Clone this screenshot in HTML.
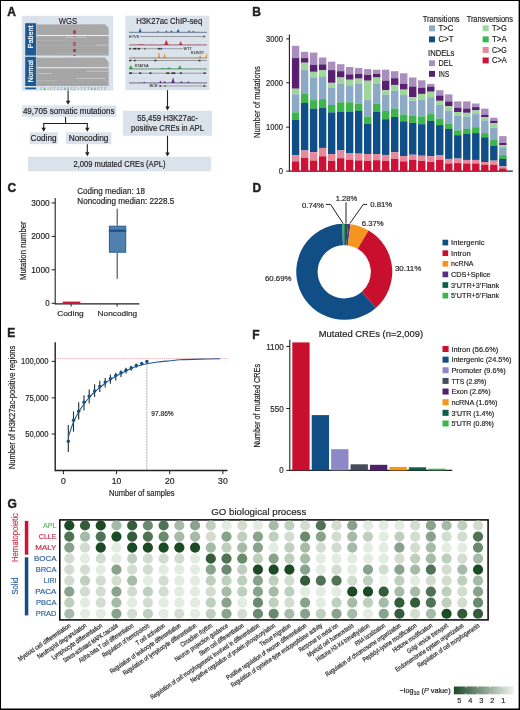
<!DOCTYPE html>
<html><head><meta charset="utf-8"><style>
html,body{margin:0;padding:0;background:#fff;}
body{width:520px;height:710px;overflow:hidden;}
svg{display:block;font-family:"Liberation Sans", sans-serif;will-change:transform;}
</style></head><body>
<svg width="520" height="710" viewBox="0 0 520 710">
<rect width="520" height="710" fill="#fff"/>
<text x="7.2" y="15.6" font-size="12" fill="#231f20" stroke="#231f20" stroke-width="0.45" text-anchor="start" font-weight="bold" >A</text>
<text x="252.3" y="15.5" font-size="12" fill="#231f20" stroke="#231f20" stroke-width="0.45" text-anchor="start" font-weight="bold" >B</text>
<text x="7.6" y="191.8" font-size="12" fill="#231f20" stroke="#231f20" stroke-width="0.45" text-anchor="start" font-weight="bold" >C</text>
<text x="252.4" y="191.8" font-size="12" fill="#231f20" stroke="#231f20" stroke-width="0.45" text-anchor="start" font-weight="bold" >D</text>
<text x="7.3" y="337.4" font-size="12" fill="#231f20" stroke="#231f20" stroke-width="0.45" text-anchor="start" font-weight="bold" >E</text>
<text x="252.2" y="338.5" font-size="12" fill="#231f20" stroke="#231f20" stroke-width="0.45" text-anchor="start" font-weight="bold" >F</text>
<text x="7.4" y="508.2" font-size="12" fill="#231f20" stroke="#231f20" stroke-width="0.45" text-anchor="start" font-weight="bold" >G</text>
<rect x="21.80" y="15.80" width="91.40" height="74.80" fill="#dae3ec" />
<text x="68" y="23.6" font-size="8.8" fill="#231f20" stroke="#231f20" stroke-width="0.18" text-anchor="middle" font-weight="normal" textLength="18.4" lengthAdjust="spacingAndGlyphs" >WGS</text>
<rect x="25.20" y="23.20" width="11.00" height="32.30" fill="#1c5a94" />
<rect x="25.20" y="56.80" width="11.00" height="29.20" fill="#1c5a94" />
<rect x="25.20" y="87.50" width="11.00" height="1.80" fill="#1c5a94" />
<text transform="translate(33.2,36.8) rotate(-90)" font-size="7" fill="#fff" stroke="#fff" stroke-width="0.2" text-anchor="middle" textLength="22.8" lengthAdjust="spacingAndGlyphs">Patient</text>
<text transform="translate(33.2,71.2) rotate(-90)" font-size="7" fill="#fff" stroke="#fff" stroke-width="0.2" text-anchor="middle" textLength="22" lengthAdjust="spacingAndGlyphs">Normal</text>
<path d="M36.6,24.6 L105,24.2 L108.6,28 L108.6,55.5 L36.6,55.5 Z" fill="#a8a8a8"/>
<path d="M36.6,57.8 L105,57.4 L108.6,62 L108.6,86 L36.6,86 Z" fill="#a8a8a8"/>
<rect x="36.60" y="35.00" width="72.00" height="1.00" fill="#ededed" />
<rect x="36.60" y="38.70" width="72.00" height="0.45" fill="#9c9c9c" />
<rect x="36.60" y="41.10" width="72.00" height="0.45" fill="#9c9c9c" />
<rect x="36.60" y="43.40" width="72.00" height="0.45" fill="#9c9c9c" />
<rect x="36.60" y="47.70" width="72.00" height="0.45" fill="#9c9c9c" />
<rect x="36.60" y="49.80" width="72.00" height="0.45" fill="#9c9c9c" />
<rect x="36.60" y="52.00" width="72.00" height="0.45" fill="#9c9c9c" />
<rect x="36.60" y="54.10" width="72.00" height="0.45" fill="#9c9c9c" />
<rect x="66.00" y="36.80" width="20.00" height="0.90" fill="#c6c6c6" />
<rect x="96.00" y="44.60" width="12.00" height="0.90" fill="#c6c6c6" />
<rect x="36.60" y="40.00" width="30.00" height="0.60" fill="#b8b8b8" />
<rect x="56.00" y="53.00" width="52.00" height="0.60" fill="#b8b8b8" />
<rect x="36.60" y="67.20" width="72.00" height="1.00" fill="#ededed" />
<rect x="36.60" y="70.00" width="72.00" height="0.45" fill="#9c9c9c" />
<rect x="36.60" y="72.40" width="72.00" height="0.45" fill="#9c9c9c" />
<rect x="36.60" y="74.80" width="72.00" height="0.45" fill="#9c9c9c" />
<rect x="36.60" y="77.20" width="72.00" height="0.45" fill="#9c9c9c" />
<rect x="36.60" y="79.60" width="72.00" height="0.45" fill="#9c9c9c" />
<rect x="36.60" y="82.00" width="72.00" height="0.45" fill="#9c9c9c" />
<rect x="36.60" y="84.30" width="72.00" height="0.45" fill="#9c9c9c" />
<rect x="38.00" y="73.20" width="14.00" height="0.80" fill="#cccccc" />
<rect x="86.00" y="70.80" width="22.00" height="0.80" fill="#cccccc" />
<rect x="76.00" y="78.20" width="30.00" height="0.80" fill="#cccccc" />
<rect x="36.60" y="80.60" width="20.00" height="0.60" fill="#c0c0c0" />
<rect x="73.00" y="30.40" width="3.00" height="3.40" fill="#cc3148" />
<rect x="73.20" y="36.20" width="2.60" height="0.60" fill="#cc3148" />
<rect x="73.00" y="42.10" width="3.00" height="1.30" fill="#cc3148" />
<rect x="73.00" y="44.30" width="3.00" height="1.30" fill="#cc3148" />
<rect x="73.00" y="49.10" width="3.00" height="2.90" fill="#cc3148" />
<rect x="73.20" y="55.00" width="2.60" height="0.70" fill="#cc3148" />
<text x="40.50" y="90" font-size="2.8" fill="#2f6db0">C</text>
<text x="43.85" y="90" font-size="2.8" fill="#3aa84a">A</text>
<text x="47.20" y="90" font-size="2.8" fill="#e8a020">G</text>
<text x="50.55" y="90" font-size="2.8" fill="#2f6db0">C</text>
<text x="53.90" y="90" font-size="2.8" fill="#d0243f">T</text>
<text x="57.25" y="90" font-size="2.8" fill="#2f6db0">C</text>
<text x="60.60" y="90" font-size="2.8" fill="#2f6db0">C</text>
<text x="63.95" y="90" font-size="2.8" fill="#3aa84a">A</text>
<text x="67.30" y="90" font-size="2.8" fill="#3aa84a">A</text>
<text x="70.65" y="90" font-size="2.8" fill="#2f6db0">C</text>
<text x="74.00" y="90" font-size="2.8" fill="#2f6db0">C</text>
<text x="77.35" y="90" font-size="2.8" fill="#e8a020">G</text>
<text x="80.70" y="90" font-size="2.8" fill="#d0243f">T</text>
<text x="84.05" y="90" font-size="2.8" fill="#2f6db0">C</text>
<text x="87.40" y="90" font-size="2.8" fill="#d0243f">T</text>
<text x="90.75" y="90" font-size="2.8" fill="#3aa84a">A</text>
<text x="94.10" y="90" font-size="2.8" fill="#3aa84a">A</text>
<text x="97.45" y="90" font-size="2.8" fill="#2f6db0">C</text>
<text x="100.80" y="90" font-size="2.8" fill="#d0243f">T</text>
<text x="104.15" y="90" font-size="2.8" fill="#2f6db0">C</text>
<line x1="68.1" y1="90.6" x2="68.1" y2="101.3" stroke="#231f20" stroke-width="1.1" />
<path d="M65.89999999999999,100.8 L70.3,100.8 L68.1,104.8 Z" fill="#231f20"/>
<rect x="21.90" y="105.40" width="94.30" height="11.50" fill="#dae3ec" />
<text x="68.75" y="113.5" font-size="8.2" fill="#231f20" stroke="#231f20" stroke-width="0.18" text-anchor="middle" font-weight="normal" textLength="91.7" lengthAdjust="spacingAndGlyphs" >49,705 somatic mutations</text>
<line x1="65.6" y1="116.9" x2="65.6" y2="123.5" stroke="#231f20" stroke-width="1.1" />
<line x1="43.7" y1="123.5" x2="87.3" y2="123.5" stroke="#231f20" stroke-width="1.1" />
<line x1="43.7" y1="123.0" x2="43.7" y2="128.2" stroke="#231f20" stroke-width="1.1" />
<path d="M41.5,127.69999999999999 L45.900000000000006,127.69999999999999 L43.7,131.7 Z" fill="#231f20"/>
<line x1="87.3" y1="123.0" x2="87.3" y2="128.2" stroke="#231f20" stroke-width="1.1" />
<path d="M85.1,127.69999999999999 L89.5,127.69999999999999 L87.3,131.7 Z" fill="#231f20"/>
<rect x="29.60" y="132.30" width="28.30" height="11.90" fill="#dae3ec" />
<text x="43.55" y="141.3" font-size="8.2" fill="#231f20" stroke="#231f20" stroke-width="0.18" text-anchor="middle" font-weight="normal" textLength="25.9" lengthAdjust="spacingAndGlyphs" >Coding</text>
<rect x="65.80" y="132.30" width="45.50" height="11.90" fill="#dae3ec" />
<text x="88.6" y="141.3" font-size="8.2" fill="#231f20" stroke="#231f20" stroke-width="0.18" text-anchor="middle" font-weight="normal" textLength="39.8" lengthAdjust="spacingAndGlyphs" >Noncoding</text>
<line x1="87.3" y1="144.2" x2="87.3" y2="152.7" stroke="#231f20" stroke-width="1.1" />
<path d="M85.1,152.2 L89.5,152.2 L87.3,156.2 Z" fill="#231f20"/>
<rect x="28.00" y="156.75" width="183.00" height="14.50" fill="#dae3ec" />
<text x="119.5" y="166.8" font-size="8.2" fill="#231f20" stroke="#231f20" stroke-width="0.18" text-anchor="middle" font-weight="normal" textLength="92" lengthAdjust="spacingAndGlyphs" >2,009 mutated CREs (APL)</text>
<rect x="125.40" y="15.70" width="84.10" height="74.50" fill="#dae3ec" />
<text x="169.2" y="24.2" font-size="9" fill="#231f20" stroke="#231f20" stroke-width="0.18" text-anchor="middle" font-weight="normal" textLength="66" lengthAdjust="spacingAndGlyphs" >H3K27ac ChIP-seq</text>
<line x1="167.5" y1="90.2" x2="167.5" y2="106.9" stroke="#231f20" stroke-width="1.1" />
<path d="M165.3,106.4 L169.7,106.4 L167.5,110.4 Z" fill="#231f20"/>
<rect x="123.00" y="110.75" width="89.00" height="25.00" fill="#dae3ec" />
<text x="167.5" y="121.2" font-size="8.2" fill="#231f20" stroke="#231f20" stroke-width="0.18" text-anchor="middle" font-weight="normal" textLength="60.5" lengthAdjust="spacingAndGlyphs" >55,459 H3K27ac-</text>
<text x="167.5" y="131.2" font-size="8.2" fill="#231f20" stroke="#231f20" stroke-width="0.18" text-anchor="middle" font-weight="normal" textLength="73" lengthAdjust="spacingAndGlyphs" >positive CREs in APL</text>
<line x1="167.5" y1="135.75" x2="167.5" y2="153.0" stroke="#231f20" stroke-width="1.1" />
<path d="M165.3,152.5 L169.7,152.5 L167.5,156.5 Z" fill="#231f20"/>
<path d="M129.07700118463362,32.3 L129.08,32.20 L129.40,32.20 L129.73,31.93 L130.05,32.20 L130.37,32.20 L130.70,32.20 L131.02,32.20 L131.35,31.84 L131.67,32.20 L132.00,32.20 L132.32,32.20 L132.65,32.20 L132.97,31.84 L133.29,32.20 L133.62,32.20 L133.94,32.20 L134.27,32.20 L134.59,31.93 L134.92,32.20 L135.24,32.20 L135.56,32.20 L135.89,32.20 L136.21,32.08 L136.54,32.20 L136.86,32.20 L137.19,32.20 L137.51,32.20 L137.83,32.20 L138.16,32.06 L138.48,32.13 L138.81,31.91 L139.13,31.31 L139.46,30.23 L139.78,28.74 L140.11,28.60 L140.43,29.24 L140.75,30.44 L141.08,31.45 L141.40,31.54 L141.73,32.15 L142.05,32.19 L142.38,32.20 L142.70,32.20 L143.02,31.76 L143.35,32.20 L143.67,32.20 L144.00,32.20 L144.32,32.20 L144.65,31.86 L144.97,32.20 L145.30,32.20 L145.62,32.20 L145.94,32.20 L146.27,32.04 L146.59,32.20 L146.92,32.20 L147.24,32.20 L147.57,32.20 L147.89,32.20 L148.21,32.12 L148.54,32.18 L148.86,32.20 L149.19,32.20 L149.51,32.20 L149.84,31.98 L150.16,32.17 L150.49,32.20 L150.81,32.20 L151.13,32.20 L151.46,31.88 L151.78,32.20 L152.11,32.20 L152.43,32.20 L152.76,32.20 L153.08,31.86 L153.40,32.20 L153.73,32.20 L154.05,32.20 L154.38,32.20 L154.70,31.94 L155.03,32.20 L155.35,32.20 L155.67,32.20 L156.00,32.20 L156.32,32.10 L156.65,32.15 L156.97,31.83 L157.30,31.66 L157.62,31.30 L157.95,31.22 L158.27,31.51 L158.59,31.60 L158.92,32.10 L159.24,32.18 L159.57,32.20 L159.89,32.19 L160.22,31.89 L160.54,32.20 L160.86,32.20 L161.19,32.20 L161.51,32.14 L161.84,31.95 L162.16,32.20 L162.49,32.20 L162.81,32.20 L163.14,32.12 L163.46,32.06 L163.78,32.20 L164.11,32.20 L164.43,32.20 L164.76,32.15 L165.08,32.13 L165.41,31.88 L165.73,31.44 L166.05,30.88 L166.38,30.72 L166.70,31.11 L167.03,31.43 L167.35,32.04 L167.68,32.17 L168.00,32.20 L168.33,32.20 L168.65,31.80 L168.97,32.20 L169.30,32.20 L169.62,32.20 L169.95,32.18 L170.27,31.63 L170.60,31.75 L170.92,31.17 L171.24,30.66 L171.57,30.71 L171.89,30.87 L172.22,31.81 L172.54,32.10 L172.87,32.18 L173.19,32.20 L173.51,31.97 L173.84,32.20 L174.16,32.20 L174.49,32.20 L174.81,32.20 L175.14,32.18 L175.46,32.16 L175.79,32.20 L176.11,32.20 L176.43,32.17 L176.76,32.07 L177.08,31.52 L177.41,31.03 L177.73,30.08 L178.06,29.44 L178.38,29.61 L178.70,30.11 L179.03,31.35 L179.35,31.90 L179.68,32.13 L180.00,32.19 L180.33,31.80 L180.65,32.20 L180.98,32.20 L181.30,32.20 L181.62,32.20 L181.95,31.85 L182.27,32.20 L182.60,32.20 L182.92,32.20 L183.25,32.20 L183.57,32.00 L183.89,32.20 L184.22,32.17 L184.54,32.20 L184.87,32.20 L185.19,32.20 L185.52,32.20 L185.84,32.03 L186.17,32.20 L186.49,32.20 L186.81,32.20 L187.14,32.14 L187.46,31.97 L187.79,32.16 L188.11,32.03 L188.44,31.64 L188.76,30.89 L189.08,30.42 L189.41,30.80 L189.73,31.39 L190.06,31.90 L190.38,31.94 L190.71,32.07 L191.03,32.20 L191.35,32.20 L191.68,32.20 L192.00,32.01 L192.33,32.07 L192.65,31.80 L192.98,31.35 L193.30,31.02 L193.63,31.08 L193.95,31.57 L194.27,31.80 L194.60,32.14 L194.92,32.19 L195.25,32.20 L195.57,32.20 L195.90,31.87 L196.22,32.20 L196.54,32.20 L196.87,32.20 L197.19,32.20 L197.52,31.79 L197.84,32.20 L198.17,32.20 L198.49,32.20 L198.82,32.20 L199.14,31.81 L199.46,32.20 L199.79,32.20 L200.11,32.20 L200.44,32.20 L200.76,31.93 L201.09,32.20 L201.41,32.20 L201.73,32.20 L202.06,32.20 L202.38,32.11 L202.71,32.20 L203.03,32.20 L203.36,32.20 L203.68,32.20 L204.01,32.20 L204.33,32.03 L204.65,32.20 L204.98,32.20 L205.30,32.20 L205.63,32.20 L205.95,31.86 L206.28,32.20 L206.60,32.20 L206.92,32.20 L206.92435268234897,32.3 Z" fill="#1f4e8a" stroke="#1f4e8a" stroke-width="0.2"/>
<line x1="129.07700118463362" y1="32.3" x2="206.92435268234897" y2="32.3" stroke="#222" stroke-width="0.5" opacity="0.6"/>
<line x1="140.07717041800643" y1="36.5" x2="205.23201895413774" y2="36.5" stroke="#444" stroke-width="0.45" />
<rect x="203.54" y="35.70" width="1.20" height="1.60" fill="#333" />
<text x="129.07700118463362" y="37.8" font-size="3.9" fill="#333" stroke="#333" stroke-width="0.08" font-style="italic">ETV6</text>
<path d="M129.07700118463362,45.0 L129.08,44.90 L129.40,44.90 L129.73,44.63 L130.05,44.90 L130.37,44.90 L130.70,44.90 L131.02,44.90 L131.35,44.54 L131.67,44.90 L132.00,44.90 L132.32,44.90 L132.65,44.90 L132.97,44.54 L133.29,44.90 L133.62,44.90 L133.94,44.90 L134.27,44.90 L134.59,44.63 L134.92,44.90 L135.24,44.90 L135.56,44.90 L135.89,44.90 L136.21,44.78 L136.54,44.90 L136.86,44.89 L137.19,44.88 L137.51,44.87 L137.83,44.85 L138.16,44.70 L138.48,44.79 L138.81,44.74 L139.13,44.68 L139.46,44.61 L139.78,44.22 L140.11,44.48 L140.43,44.43 L140.75,44.40 L141.08,44.40 L141.40,44.00 L141.73,44.47 L142.05,44.54 L142.38,44.60 L142.70,44.67 L143.02,44.29 L143.35,44.79 L143.67,44.82 L144.00,44.85 L144.32,44.87 L144.65,44.54 L144.97,44.89 L145.30,44.90 L145.62,44.90 L145.94,44.90 L146.27,44.74 L146.59,44.90 L146.92,44.90 L147.24,44.90 L147.57,44.90 L147.89,44.90 L148.21,44.82 L148.54,44.88 L148.86,44.90 L149.19,44.90 L149.51,44.90 L149.84,44.68 L150.16,44.87 L150.49,44.90 L150.81,44.90 L151.13,44.90 L151.46,44.58 L151.78,44.90 L152.11,44.90 L152.43,44.90 L152.76,44.90 L153.08,44.56 L153.40,44.90 L153.73,44.90 L154.05,44.90 L154.38,44.90 L154.70,44.64 L155.03,44.90 L155.35,44.90 L155.67,44.90 L156.00,44.90 L156.32,44.81 L156.65,44.90 L156.97,44.74 L157.30,44.90 L157.62,44.90 L157.95,44.90 L158.27,44.90 L158.59,44.62 L158.92,44.90 L159.24,44.90 L159.57,44.90 L159.89,44.89 L160.22,44.59 L160.54,44.90 L160.86,44.90 L161.19,44.90 L161.51,44.84 L161.84,44.65 L162.16,44.90 L162.49,44.90 L162.81,44.90 L163.14,44.81 L163.46,44.75 L163.78,44.85 L164.11,44.74 L164.43,44.51 L164.76,44.01 L165.08,43.32 L165.41,42.31 L165.73,41.33 L166.05,40.60 L166.38,40.42 L166.70,40.86 L167.03,41.51 L167.35,42.79 L167.68,43.67 L168.00,44.28 L168.33,44.63 L168.65,44.40 L168.97,44.87 L169.30,44.89 L169.62,44.90 L169.95,44.90 L170.27,44.46 L170.60,44.90 L170.92,44.90 L171.24,44.90 L171.57,44.90 L171.89,44.52 L172.22,44.90 L172.54,44.90 L172.87,44.90 L173.19,44.90 L173.51,44.67 L173.84,44.90 L174.16,44.90 L174.49,44.90 L174.81,44.90 L175.14,44.88 L175.46,44.86 L175.79,44.90 L176.11,44.90 L176.43,44.90 L176.76,44.90 L177.08,44.69 L177.41,44.90 L177.73,44.90 L178.06,44.90 L178.38,44.90 L178.70,44.53 L179.03,44.79 L179.35,44.54 L179.68,43.98 L180.00,43.07 L180.33,41.70 L180.65,41.61 L180.98,41.91 L181.30,42.80 L181.62,43.77 L181.95,44.08 L182.27,44.75 L182.60,44.86 L182.92,44.89 L183.25,44.90 L183.57,44.70 L183.89,44.90 L184.22,44.87 L184.54,44.90 L184.87,44.90 L185.19,44.90 L185.52,44.90 L185.84,44.73 L186.17,44.90 L186.49,44.90 L186.81,44.90 L187.14,44.84 L187.46,44.68 L187.79,44.90 L188.11,44.90 L188.44,44.90 L188.76,44.76 L189.08,44.70 L189.41,44.90 L189.73,44.90 L190.06,44.90 L190.38,44.71 L190.71,44.78 L191.03,44.90 L191.35,44.90 L191.68,44.90 L192.00,44.74 L192.33,44.89 L192.65,44.90 L192.98,44.90 L193.30,44.90 L193.63,44.84 L193.95,44.90 L194.27,44.74 L194.60,44.90 L194.92,44.90 L195.25,44.90 L195.57,44.90 L195.90,44.57 L196.22,44.90 L196.54,44.90 L196.87,44.90 L197.19,44.90 L197.52,44.49 L197.84,44.90 L198.17,44.90 L198.49,44.90 L198.82,44.90 L199.14,44.51 L199.46,44.90 L199.79,44.90 L200.11,44.90 L200.44,44.90 L200.76,44.63 L201.09,44.90 L201.41,44.90 L201.73,44.90 L202.06,44.90 L202.38,44.81 L202.71,44.90 L203.03,44.90 L203.36,44.90 L203.68,44.90 L204.01,44.90 L204.33,44.73 L204.65,44.90 L204.98,44.90 L205.30,44.90 L205.63,44.90 L205.95,44.56 L206.28,44.90 L206.60,44.90 L206.92,44.90 L206.92435268234897,45.0 Z" fill="#c8283c" stroke="#c8283c" stroke-width="0.2"/>
<line x1="129.07700118463362" y1="45.0" x2="206.92435268234897" y2="45.0" stroke="#222" stroke-width="0.5" opacity="0.6"/>
<line x1="129.07700118463362" y1="48.7" x2="183.2316804873921" y2="48.7" stroke="#444" stroke-width="0.45" />
<rect x="129.08" y="47.90" width="1.50" height="1.60" fill="#333" />
<rect x="133.31" y="47.90" width="3.00" height="1.60" fill="#333" />
<rect x="137.54" y="47.90" width="2.50" height="1.60" fill="#333" />
<rect x="144.31" y="47.90" width="1.00" height="1.60" fill="#333" />
<rect x="157.85" y="47.90" width="2.00" height="1.60" fill="#333" />
<rect x="160.39" y="47.90" width="1.50" height="1.60" fill="#333" />
<text x="183.57014723303436" y="49.9" font-size="3.9" fill="#333" stroke="#333" stroke-width="0.08" font-style="italic">WT1</text>
<path d="M129.07700118463362,58.0 L129.08,57.90 L129.40,57.90 L129.73,57.63 L130.05,57.90 L130.37,57.90 L130.70,57.90 L131.02,57.90 L131.35,57.54 L131.67,57.90 L132.00,57.90 L132.32,57.90 L132.65,57.90 L132.97,57.52 L133.29,57.77 L133.62,57.45 L133.94,57.02 L134.27,56.93 L134.59,57.04 L134.92,57.70 L135.24,57.86 L135.56,57.90 L135.89,57.90 L136.21,57.78 L136.54,57.90 L136.86,57.90 L137.19,57.90 L137.51,57.90 L137.83,57.90 L138.16,57.77 L138.48,57.90 L138.81,57.90 L139.13,57.90 L139.46,57.90 L139.78,57.58 L140.11,57.90 L140.43,57.90 L140.75,57.90 L141.08,57.90 L141.40,57.47 L141.73,57.90 L142.05,57.90 L142.38,57.90 L142.70,57.90 L143.02,57.46 L143.35,57.90 L143.67,57.90 L144.00,57.90 L144.32,57.90 L144.65,57.56 L144.97,57.90 L145.30,57.90 L145.62,57.90 L145.94,57.90 L146.27,57.74 L146.59,57.90 L146.92,57.90 L147.24,57.90 L147.57,57.90 L147.89,57.90 L148.21,57.82 L148.54,57.88 L148.86,57.90 L149.19,57.90 L149.51,57.90 L149.84,57.68 L150.16,57.87 L150.49,57.90 L150.81,57.90 L151.13,57.90 L151.46,57.58 L151.78,57.90 L152.11,57.90 L152.43,57.90 L152.76,57.90 L153.08,57.56 L153.40,57.90 L153.73,57.90 L154.05,57.90 L154.38,57.90 L154.70,57.64 L155.03,57.90 L155.35,57.90 L155.67,57.90 L156.00,57.90 L156.32,57.81 L156.65,57.90 L156.97,57.74 L157.30,57.90 L157.62,57.88 L157.95,57.69 L158.27,56.80 L158.59,54.39 L158.92,52.59 L159.24,53.04 L159.57,55.42 L159.89,57.19 L160.22,57.48 L160.54,57.89 L160.86,57.90 L161.19,57.90 L161.51,57.84 L161.84,57.65 L162.16,57.90 L162.49,57.90 L162.81,57.90 L163.14,57.81 L163.46,57.65 L163.78,57.24 L164.11,55.70 L164.43,53.80 L164.76,53.60 L165.08,55.43 L165.41,57.07 L165.73,57.76 L166.05,57.89 L166.38,57.90 L166.70,57.90 L167.03,57.65 L167.35,57.90 L167.68,57.90 L168.00,57.90 L168.33,57.90 L168.65,57.50 L168.97,57.90 L169.30,57.90 L169.62,57.90 L169.95,57.90 L170.27,57.46 L170.60,57.90 L170.92,57.90 L171.24,57.90 L171.57,57.90 L171.89,57.52 L172.22,57.90 L172.54,57.90 L172.87,57.90 L173.19,57.90 L173.51,57.67 L173.84,57.90 L174.16,57.90 L174.49,57.90 L174.81,57.90 L175.14,57.88 L175.46,57.86 L175.79,57.90 L176.11,57.90 L176.43,57.90 L176.76,57.90 L177.08,57.69 L177.41,57.90 L177.73,57.90 L178.06,57.90 L178.38,57.90 L178.70,57.55 L179.03,57.90 L179.35,57.90 L179.68,57.90 L180.00,57.90 L180.33,57.50 L180.65,57.90 L180.98,57.90 L181.30,57.90 L181.62,57.90 L181.95,57.55 L182.27,57.90 L182.60,57.90 L182.92,57.90 L183.25,57.90 L183.57,57.70 L183.89,57.90 L184.22,57.87 L184.54,57.90 L184.87,57.90 L185.19,57.90 L185.52,57.90 L185.84,57.73 L186.17,57.90 L186.49,57.90 L186.81,57.90 L187.14,57.84 L187.46,57.68 L187.79,57.90 L188.11,57.90 L188.44,57.90 L188.76,57.76 L189.08,57.70 L189.41,57.90 L189.73,57.90 L190.06,57.90 L190.38,57.71 L190.71,57.78 L191.03,57.90 L191.35,57.90 L191.68,57.90 L192.00,57.74 L192.33,57.89 L192.65,57.90 L192.98,57.90 L193.30,57.90 L193.63,57.84 L193.95,57.90 L194.27,57.74 L194.60,57.90 L194.92,57.90 L195.25,57.90 L195.57,57.90 L195.90,57.57 L196.22,57.90 L196.54,57.90 L196.87,57.90 L197.19,57.90 L197.52,57.49 L197.84,57.90 L198.17,57.90 L198.49,57.90 L198.82,57.88 L199.14,57.35 L199.46,57.16 L199.79,55.97 L200.11,55.11 L200.44,55.66 L200.76,56.62 L201.09,57.65 L201.41,57.86 L201.73,57.90 L202.06,57.90 L202.38,57.81 L202.71,57.90 L203.03,57.90 L203.36,57.90 L203.68,57.90 L204.01,57.90 L204.33,57.73 L204.65,57.90 L204.98,57.90 L205.30,57.89 L205.63,57.79 L205.95,56.66 L206.28,54.84 L206.60,53.40 L206.92,55.05 L206.92435268234897,58.0 Z" fill="#e8901e" stroke="#e8901e" stroke-width="0.2"/>
<line x1="129.07700118463362" y1="58.0" x2="206.92435268234897" y2="58.0" stroke="#222" stroke-width="0.5" opacity="0.6"/>
<line x1="129.07700118463362" y1="60.5" x2="206.92435268234897" y2="60.5" stroke="#444" stroke-width="0.45" />
<rect x="129.08" y="59.70" width="2.00" height="1.60" fill="#333" />
<rect x="134.15" y="59.70" width="1.50" height="1.60" fill="#333" />
<rect x="154.46" y="59.70" width="2.00" height="1.60" fill="#333" />
<rect x="198.46" y="59.70" width="2.00" height="1.60" fill="#333" />
<text x="190.84718226434254" y="54.3" font-size="3.9" fill="#333" stroke="#333" stroke-width="0.08" font-style="italic">RUNX1</text>
<path d="M129.07700118463362,69.0 L129.08,68.45 L129.40,68.00 L129.73,67.08 L130.05,66.60 L130.37,65.94 L130.70,65.61 L131.02,65.74 L131.35,65.92 L131.67,67.03 L132.00,67.74 L132.32,68.28 L132.65,68.61 L132.97,68.42 L133.29,68.86 L133.62,68.89 L133.94,68.90 L134.27,68.90 L134.59,68.63 L134.92,68.90 L135.24,68.90 L135.56,68.90 L135.89,68.90 L136.21,68.78 L136.54,68.90 L136.86,68.90 L137.19,68.90 L137.51,68.90 L137.83,68.90 L138.16,68.77 L138.48,68.90 L138.81,68.90 L139.13,68.90 L139.46,68.90 L139.78,68.58 L140.11,68.90 L140.43,68.90 L140.75,68.90 L141.08,68.90 L141.40,68.47 L141.73,68.90 L142.05,68.90 L142.38,68.90 L142.70,68.90 L143.02,68.46 L143.35,68.90 L143.67,68.90 L144.00,68.90 L144.32,68.90 L144.65,68.56 L144.97,68.90 L145.30,68.90 L145.62,68.90 L145.94,68.90 L146.27,68.74 L146.59,68.90 L146.92,68.90 L147.24,68.90 L147.57,68.90 L147.89,68.90 L148.21,68.82 L148.54,68.88 L148.86,68.90 L149.19,68.90 L149.51,68.90 L149.84,68.68 L150.16,68.87 L150.49,68.90 L150.81,68.90 L151.13,68.90 L151.46,68.58 L151.78,68.90 L152.11,68.90 L152.43,68.90 L152.76,68.90 L153.08,68.56 L153.40,68.90 L153.73,68.90 L154.05,68.90 L154.38,68.90 L154.70,68.64 L155.03,68.90 L155.35,68.90 L155.67,68.90 L156.00,68.90 L156.32,68.81 L156.65,68.90 L156.97,68.74 L157.30,68.90 L157.62,68.90 L157.95,68.90 L158.27,68.90 L158.59,68.62 L158.92,68.90 L159.24,68.90 L159.57,68.90 L159.89,68.88 L160.22,68.57 L160.54,68.84 L160.86,68.79 L161.19,68.72 L161.51,68.55 L161.84,68.23 L162.16,68.36 L162.49,68.26 L162.81,68.20 L163.14,68.13 L163.46,68.15 L163.78,68.40 L164.11,68.52 L164.43,68.65 L164.76,68.70 L165.08,68.81 L165.41,68.82 L165.73,68.86 L166.05,68.85 L166.38,68.82 L166.70,68.74 L167.03,68.37 L167.35,68.46 L167.68,68.25 L168.00,68.03 L168.33,67.84 L168.65,67.32 L168.97,67.71 L169.30,67.80 L169.62,67.98 L169.95,68.20 L170.27,67.97 L170.60,68.59 L170.92,68.72 L171.24,68.81 L171.57,68.86 L171.89,68.50 L172.22,68.89 L172.54,68.90 L172.87,68.90 L173.19,68.90 L173.51,68.67 L173.84,68.90 L174.16,68.90 L174.49,68.90 L174.81,68.90 L175.14,68.88 L175.46,68.86 L175.79,68.90 L176.11,68.90 L176.43,68.90 L176.76,68.90 L177.08,68.67 L177.41,68.85 L177.73,68.76 L178.06,68.56 L178.38,68.18 L178.70,67.26 L179.03,66.89 L179.35,66.20 L179.68,65.76 L180.00,65.75 L180.33,65.77 L180.65,66.86 L180.98,67.58 L181.30,68.16 L181.62,68.54 L181.95,68.40 L182.27,68.85 L182.60,68.88 L182.92,68.90 L183.25,68.90 L183.57,68.70 L183.89,68.90 L184.22,68.87 L184.54,68.90 L184.87,68.90 L185.19,68.90 L185.52,68.90 L185.84,68.73 L186.17,68.90 L186.49,68.90 L186.81,68.90 L187.14,68.84 L187.46,68.68 L187.79,68.90 L188.11,68.90 L188.44,68.90 L188.76,68.76 L189.08,68.70 L189.41,68.90 L189.73,68.90 L190.06,68.90 L190.38,68.71 L190.71,68.78 L191.03,68.90 L191.35,68.90 L191.68,68.90 L192.00,68.74 L192.33,68.89 L192.65,68.90 L192.98,68.90 L193.30,68.90 L193.63,68.84 L193.95,68.90 L194.27,68.74 L194.60,68.90 L194.92,68.90 L195.25,68.90 L195.57,68.90 L195.90,68.57 L196.22,68.90 L196.54,68.90 L196.87,68.90 L197.19,68.90 L197.52,68.49 L197.84,68.90 L198.17,68.90 L198.49,68.90 L198.82,68.90 L199.14,68.51 L199.46,68.90 L199.79,68.90 L200.11,68.90 L200.44,68.90 L200.76,68.63 L201.09,68.90 L201.41,68.90 L201.73,68.90 L202.06,68.90 L202.38,68.81 L202.71,68.90 L203.03,68.90 L203.36,68.90 L203.68,68.90 L204.01,68.90 L204.33,68.73 L204.65,68.90 L204.98,68.90 L205.30,68.90 L205.63,68.90 L205.95,68.56 L206.28,68.90 L206.60,68.90 L206.92,68.90 L206.92435268234897,69.0 Z" fill="#3aa84a" stroke="#3aa84a" stroke-width="0.2"/>
<line x1="129.07700118463362" y1="69.0" x2="206.92435268234897" y2="69.0" stroke="#222" stroke-width="0.5" opacity="0.6"/>
<line x1="129.07700118463362" y1="73.2" x2="206.92435268234897" y2="73.2" stroke="#444" stroke-width="0.45" />
<rect x="129.08" y="72.40" width="3.00" height="1.60" fill="#333" />
<rect x="139.23" y="72.40" width="2.00" height="1.60" fill="#333" />
<rect x="149.39" y="72.40" width="2.00" height="1.60" fill="#333" />
<rect x="166.31" y="72.40" width="3.00" height="1.60" fill="#333" />
<rect x="171.39" y="72.40" width="4.00" height="1.60" fill="#333" />
<rect x="179.85" y="72.40" width="2.00" height="1.60" fill="#333" />
<rect x="203.54" y="72.40" width="2.00" height="1.60" fill="#333" />
<text x="134.49246911490945" y="67.3" font-size="3.9" fill="#333" stroke="#333" stroke-width="0.08" font-style="italic">STAT5A</text>
<path d="M129.07700118463362,83.0 L129.08,82.90 L129.40,82.90 L129.73,82.63 L130.05,82.90 L130.37,82.90 L130.70,82.90 L131.02,82.90 L131.35,82.54 L131.67,82.90 L132.00,82.90 L132.32,82.90 L132.65,82.90 L132.97,82.54 L133.29,82.90 L133.62,82.90 L133.94,82.90 L134.27,82.90 L134.59,82.63 L134.92,82.90 L135.24,82.90 L135.56,82.90 L135.89,82.90 L136.21,82.78 L136.54,82.90 L136.86,82.90 L137.19,82.90 L137.51,82.90 L137.83,82.90 L138.16,82.77 L138.48,82.90 L138.81,82.90 L139.13,82.90 L139.46,82.90 L139.78,82.58 L140.11,82.90 L140.43,82.90 L140.75,82.90 L141.08,82.90 L141.40,82.47 L141.73,82.90 L142.05,82.90 L142.38,82.90 L142.70,82.90 L143.02,82.44 L143.35,82.79 L143.67,82.59 L144.00,82.32 L144.32,82.20 L144.65,82.00 L144.97,82.61 L145.30,82.80 L145.62,82.88 L145.94,82.90 L146.27,82.74 L146.59,82.90 L146.92,82.90 L147.24,82.90 L147.57,82.90 L147.89,82.90 L148.21,82.82 L148.54,82.88 L148.86,82.90 L149.19,82.90 L149.51,82.90 L149.84,82.68 L150.16,82.87 L150.49,82.90 L150.81,82.90 L151.13,82.90 L151.46,82.58 L151.78,82.90 L152.11,82.90 L152.43,82.90 L152.76,82.90 L153.08,82.56 L153.40,82.90 L153.73,82.90 L154.05,82.90 L154.38,82.90 L154.70,82.64 L155.03,82.90 L155.35,82.90 L155.67,82.90 L156.00,82.90 L156.32,82.81 L156.65,82.90 L156.97,82.74 L157.30,82.90 L157.62,82.90 L157.95,82.90 L158.27,82.90 L158.59,82.62 L158.92,82.88 L159.24,82.76 L159.57,82.39 L159.89,81.67 L160.22,80.71 L160.54,81.00 L160.86,81.65 L161.19,82.37 L161.51,82.69 L161.84,82.62 L162.16,82.90 L162.49,82.90 L162.81,82.90 L163.14,82.80 L163.46,82.65 L163.78,82.46 L164.11,81.84 L164.43,81.22 L164.76,81.13 L165.08,81.74 L165.41,82.36 L165.73,82.76 L166.05,82.87 L166.38,82.90 L166.70,82.90 L167.03,82.65 L167.35,82.90 L167.68,82.90 L168.00,82.90 L168.33,82.90 L168.65,82.50 L168.97,82.90 L169.30,82.90 L169.62,82.90 L169.95,82.90 L170.27,82.45 L170.60,82.89 L170.92,82.85 L171.24,82.73 L171.57,82.41 L171.89,81.34 L172.22,80.61 L172.54,79.30 L172.87,78.31 L173.19,78.16 L173.51,78.70 L173.84,80.21 L174.16,81.42 L174.49,82.24 L174.81,82.66 L175.14,82.81 L175.46,82.85 L175.79,82.90 L176.11,82.90 L176.43,82.90 L176.76,82.90 L177.08,82.69 L177.41,82.90 L177.73,82.90 L178.06,82.90 L178.38,82.90 L178.70,82.55 L179.03,82.90 L179.35,82.90 L179.68,82.89 L180.00,82.86 L180.33,82.35 L180.65,82.46 L180.98,81.99 L181.30,81.53 L181.62,81.42 L181.95,81.39 L182.27,82.25 L182.60,82.64 L182.92,82.82 L183.25,82.88 L183.57,82.69 L183.89,82.90 L184.22,82.87 L184.54,82.90 L184.87,82.90 L185.19,82.90 L185.52,82.90 L185.84,82.73 L186.17,82.90 L186.49,82.89 L186.81,82.86 L187.14,82.70 L187.46,82.28 L187.79,82.12 L188.11,81.77 L188.44,81.73 L188.76,81.88 L189.08,82.23 L189.41,82.72 L189.73,82.85 L190.06,82.89 L190.38,82.71 L190.71,82.78 L191.03,82.90 L191.35,82.90 L191.68,82.90 L192.00,82.74 L192.33,82.89 L192.65,82.90 L192.98,82.90 L193.30,82.90 L193.63,82.84 L193.95,82.90 L194.27,82.74 L194.60,82.90 L194.92,82.90 L195.25,82.90 L195.57,82.90 L195.90,82.57 L196.22,82.90 L196.54,82.90 L196.87,82.90 L197.19,82.90 L197.52,82.49 L197.84,82.90 L198.17,82.90 L198.49,82.90 L198.82,82.90 L199.14,82.51 L199.46,82.90 L199.79,82.90 L200.11,82.90 L200.44,82.90 L200.76,82.63 L201.09,82.90 L201.41,82.90 L201.73,82.90 L202.06,82.90 L202.38,82.81 L202.71,82.90 L203.03,82.90 L203.36,82.90 L203.68,82.90 L204.01,82.90 L204.33,82.73 L204.65,82.90 L204.98,82.90 L205.30,82.90 L205.63,82.90 L205.95,82.56 L206.28,82.90 L206.60,82.90 L206.92,82.90 L206.92435268234897,83.0 Z" fill="#5a2a82" stroke="#5a2a82" stroke-width="0.2"/>
<line x1="129.07700118463362" y1="83.0" x2="206.92435268234897" y2="83.0" stroke="#222" stroke-width="0.5" opacity="0.6"/>
<line x1="158.69284142832967" y1="86.0" x2="206.92435268234897" y2="86.0" stroke="#444" stroke-width="0.45" />
<rect x="159.54" y="85.20" width="1.50" height="1.60" fill="#333" />
<rect x="164.62" y="85.20" width="1.00" height="1.60" fill="#333" />
<rect x="203.54" y="85.20" width="1.50" height="1.60" fill="#333" />
<text x="149.38500592316805" y="87.3" font-size="3.9" fill="#333" stroke="#333" stroke-width="0.08" font-style="italic">BCR</text>
<line x1="168.33914367913354" y1="92" x2="168.33914367913354" y2="92" stroke="#231f20" stroke-width="0" />
<line x1="289.4" y1="34.6" x2="289.4" y2="171.6" stroke="#231f20" stroke-width="1.1" />
<line x1="289.4" y1="171.1" x2="512.8" y2="171.1" stroke="#231f20" stroke-width="1.1" />
<line x1="286.2" y1="38.9" x2="289.4" y2="38.9" stroke="#231f20" stroke-width="1" />
<text x="283.0" y="42.0" font-size="8.8" fill="#231f20" stroke="#231f20" stroke-width="0.18" text-anchor="end" font-weight="normal" textLength="16.9" lengthAdjust="spacingAndGlyphs" >3000</text>
<line x1="286.2" y1="82.8" x2="289.4" y2="82.8" stroke="#231f20" stroke-width="1" />
<text x="283.0" y="85.89999999999999" font-size="8.8" fill="#231f20" stroke="#231f20" stroke-width="0.18" text-anchor="end" font-weight="normal" textLength="16.9" lengthAdjust="spacingAndGlyphs" >2000</text>
<line x1="286.2" y1="127.2" x2="289.4" y2="127.2" stroke="#231f20" stroke-width="1" />
<text x="283.0" y="130.3" font-size="8.8" fill="#231f20" stroke="#231f20" stroke-width="0.18" text-anchor="end" font-weight="normal" textLength="16.9" lengthAdjust="spacingAndGlyphs" >1000</text>
<line x1="286.2" y1="171.1" x2="289.4" y2="171.1" stroke="#231f20" stroke-width="1" />
<text x="283.0" y="174.2" font-size="8.8" fill="#231f20" stroke="#231f20" stroke-width="0.18" text-anchor="end" font-weight="normal" textLength="4.3" lengthAdjust="spacingAndGlyphs" >0</text>
<text transform="translate(259.8,102) rotate(-90)" font-size="9.0" fill="#231f20" stroke="#231f20" stroke-width="0.2" text-anchor="middle" textLength="72" lengthAdjust="spacingAndGlyphs">Number of mutations</text>
<rect x="291.90" y="45.80" width="7.40" height="12.35" fill="#aa8ebd" />
<rect x="291.90" y="58.10" width="7.40" height="30.65" fill="#58206f" />
<rect x="291.90" y="88.70" width="7.40" height="5.75" fill="#9ed69e" />
<rect x="291.90" y="94.40" width="7.40" height="18.05" fill="#8ca9c6" />
<rect x="291.90" y="112.40" width="7.40" height="7.45" fill="#3db54b" />
<rect x="291.90" y="119.80" width="7.40" height="35.35" fill="#0f4e86" />
<rect x="291.90" y="155.10" width="7.40" height="6.35" fill="#e8899b" />
<rect x="291.90" y="161.40" width="7.40" height="9.75" fill="#cc1236" />
<rect x="300.91" y="51.80" width="7.40" height="6.35" fill="#aa8ebd" />
<rect x="300.91" y="58.10" width="7.40" height="4.65" fill="#58206f" />
<rect x="300.91" y="62.70" width="7.40" height="7.45" fill="#9ed69e" />
<rect x="300.91" y="70.10" width="7.40" height="23.75" fill="#8ca9c6" />
<rect x="300.91" y="93.80" width="7.40" height="9.15" fill="#3db54b" />
<rect x="300.91" y="102.90" width="7.40" height="47.55" fill="#0f4e86" />
<rect x="300.91" y="150.40" width="7.40" height="7.45" fill="#e8899b" />
<rect x="300.91" y="157.80" width="7.40" height="13.35" fill="#cc1236" />
<rect x="309.92" y="52.60" width="7.40" height="12.35" fill="#aa8ebd" />
<rect x="309.92" y="64.90" width="7.40" height="6.95" fill="#58206f" />
<rect x="309.92" y="71.80" width="7.40" height="6.25" fill="#9ed69e" />
<rect x="309.92" y="78.00" width="7.40" height="22.15" fill="#8ca9c6" />
<rect x="309.92" y="100.10" width="7.40" height="8.55" fill="#3db54b" />
<rect x="309.92" y="108.60" width="7.40" height="43.55" fill="#0f4e86" />
<rect x="309.92" y="152.10" width="7.40" height="8.55" fill="#e8899b" />
<rect x="309.92" y="160.60" width="7.40" height="10.55" fill="#cc1236" />
<rect x="318.93" y="57.50" width="7.40" height="6.95" fill="#aa8ebd" />
<rect x="318.93" y="64.40" width="7.40" height="5.75" fill="#58206f" />
<rect x="318.93" y="70.10" width="7.40" height="6.85" fill="#9ed69e" />
<rect x="318.93" y="76.90" width="7.40" height="22.25" fill="#8ca9c6" />
<rect x="318.93" y="99.10" width="7.40" height="8.75" fill="#3db54b" />
<rect x="318.93" y="107.80" width="7.40" height="40.15" fill="#0f4e86" />
<rect x="318.93" y="147.90" width="7.40" height="8.45" fill="#e8899b" />
<rect x="318.93" y="156.30" width="7.40" height="14.85" fill="#cc1236" />
<rect x="327.94" y="61.70" width="7.40" height="8.45" fill="#aa8ebd" />
<rect x="327.94" y="70.10" width="7.40" height="12.75" fill="#58206f" />
<rect x="327.94" y="82.80" width="7.40" height="4.75" fill="#9ed69e" />
<rect x="327.94" y="87.50" width="7.40" height="17.55" fill="#8ca9c6" />
<rect x="327.94" y="105.00" width="7.40" height="7.45" fill="#3db54b" />
<rect x="327.94" y="112.40" width="7.40" height="41.65" fill="#0f4e86" />
<rect x="327.94" y="154.00" width="7.40" height="7.05" fill="#e8899b" />
<rect x="327.94" y="161.00" width="7.40" height="10.15" fill="#cc1236" />
<rect x="336.95" y="64.20" width="7.40" height="7.05" fill="#aa8ebd" />
<rect x="336.95" y="71.20" width="7.40" height="6.35" fill="#58206f" />
<rect x="336.95" y="77.50" width="7.40" height="6.45" fill="#9ed69e" />
<rect x="336.95" y="83.90" width="7.40" height="18.45" fill="#8ca9c6" />
<rect x="336.95" y="102.30" width="7.40" height="9.75" fill="#3db54b" />
<rect x="336.95" y="112.00" width="7.40" height="38.45" fill="#0f4e86" />
<rect x="336.95" y="150.40" width="7.40" height="7.85" fill="#e8899b" />
<rect x="336.95" y="158.20" width="7.40" height="12.95" fill="#cc1236" />
<rect x="345.96" y="67.00" width="7.40" height="7.45" fill="#aa8ebd" />
<rect x="345.96" y="74.40" width="7.40" height="5.35" fill="#58206f" />
<rect x="345.96" y="79.70" width="7.40" height="5.75" fill="#9ed69e" />
<rect x="345.96" y="85.40" width="7.40" height="16.95" fill="#8ca9c6" />
<rect x="345.96" y="102.30" width="7.40" height="9.75" fill="#3db54b" />
<rect x="345.96" y="112.00" width="7.40" height="41.25" fill="#0f4e86" />
<rect x="345.96" y="153.20" width="7.40" height="6.75" fill="#e8899b" />
<rect x="345.96" y="159.90" width="7.40" height="11.25" fill="#cc1236" />
<rect x="354.97" y="68.00" width="7.40" height="6.05" fill="#aa8ebd" />
<rect x="354.97" y="74.00" width="7.40" height="4.65" fill="#58206f" />
<rect x="354.97" y="78.60" width="7.40" height="5.35" fill="#9ed69e" />
<rect x="354.97" y="83.90" width="7.40" height="19.65" fill="#8ca9c6" />
<rect x="354.97" y="103.50" width="7.40" height="7.45" fill="#3db54b" />
<rect x="354.97" y="110.90" width="7.40" height="42.75" fill="#0f4e86" />
<rect x="354.97" y="153.60" width="7.40" height="6.85" fill="#e8899b" />
<rect x="354.97" y="160.40" width="7.40" height="10.75" fill="#cc1236" />
<rect x="363.98" y="69.10" width="7.40" height="5.95" fill="#aa8ebd" />
<rect x="363.98" y="75.00" width="7.40" height="5.75" fill="#58206f" />
<rect x="363.98" y="80.70" width="7.40" height="19.45" fill="#9ed69e" />
<rect x="363.98" y="100.10" width="7.40" height="16.55" fill="#8ca9c6" />
<rect x="363.98" y="116.60" width="7.40" height="7.45" fill="#3db54b" />
<rect x="363.98" y="124.00" width="7.40" height="30.05" fill="#0f4e86" />
<rect x="363.98" y="154.00" width="7.40" height="7.05" fill="#e8899b" />
<rect x="363.98" y="161.00" width="7.40" height="10.15" fill="#cc1236" />
<rect x="372.99" y="69.70" width="7.40" height="4.35" fill="#aa8ebd" />
<rect x="372.99" y="74.00" width="7.40" height="3.55" fill="#58206f" />
<rect x="372.99" y="77.50" width="7.40" height="6.45" fill="#9ed69e" />
<rect x="372.99" y="83.90" width="7.40" height="19.65" fill="#8ca9c6" />
<rect x="372.99" y="103.50" width="7.40" height="8.55" fill="#3db54b" />
<rect x="372.99" y="112.00" width="7.40" height="42.05" fill="#0f4e86" />
<rect x="372.99" y="154.00" width="7.40" height="6.25" fill="#e8899b" />
<rect x="372.99" y="160.20" width="7.40" height="10.95" fill="#cc1236" />
<rect x="382.00" y="69.70" width="7.40" height="11.05" fill="#aa8ebd" />
<rect x="382.00" y="80.70" width="7.40" height="9.55" fill="#58206f" />
<rect x="382.00" y="90.20" width="7.40" height="4.55" fill="#9ed69e" />
<rect x="382.00" y="94.70" width="7.40" height="16.15" fill="#8ca9c6" />
<rect x="382.00" y="110.80" width="7.40" height="8.45" fill="#3db54b" />
<rect x="382.00" y="119.20" width="7.40" height="35.75" fill="#0f4e86" />
<rect x="382.00" y="154.90" width="7.40" height="6.15" fill="#e8899b" />
<rect x="382.00" y="161.00" width="7.40" height="10.15" fill="#cc1236" />
<rect x="391.01" y="71.20" width="7.40" height="7.05" fill="#aa8ebd" />
<rect x="391.01" y="78.20" width="7.40" height="6.75" fill="#58206f" />
<rect x="391.01" y="84.90" width="7.40" height="5.95" fill="#9ed69e" />
<rect x="391.01" y="90.80" width="7.40" height="17.85" fill="#8ca9c6" />
<rect x="391.01" y="108.60" width="7.40" height="8.45" fill="#3db54b" />
<rect x="391.01" y="117.00" width="7.40" height="35.15" fill="#0f4e86" />
<rect x="391.01" y="152.10" width="7.40" height="6.85" fill="#e8899b" />
<rect x="391.01" y="158.90" width="7.40" height="12.25" fill="#cc1236" />
<rect x="400.02" y="73.30" width="7.40" height="10.65" fill="#aa8ebd" />
<rect x="400.02" y="83.90" width="7.40" height="5.75" fill="#58206f" />
<rect x="400.02" y="89.60" width="7.40" height="5.55" fill="#9ed69e" />
<rect x="400.02" y="95.10" width="7.40" height="19.45" fill="#8ca9c6" />
<rect x="400.02" y="114.50" width="7.40" height="6.85" fill="#3db54b" />
<rect x="400.02" y="121.30" width="7.40" height="34.85" fill="#0f4e86" />
<rect x="400.02" y="156.10" width="7.40" height="5.35" fill="#e8899b" />
<rect x="400.02" y="161.40" width="7.40" height="9.75" fill="#cc1236" />
<rect x="409.03" y="77.50" width="7.40" height="9.15" fill="#aa8ebd" />
<rect x="409.03" y="86.60" width="7.40" height="10.65" fill="#58206f" />
<rect x="409.03" y="97.20" width="7.40" height="3.65" fill="#9ed69e" />
<rect x="409.03" y="100.80" width="7.40" height="14.85" fill="#8ca9c6" />
<rect x="409.03" y="115.60" width="7.40" height="7.45" fill="#3db54b" />
<rect x="409.03" y="123.00" width="7.40" height="31.75" fill="#0f4e86" />
<rect x="409.03" y="154.70" width="7.40" height="5.25" fill="#e8899b" />
<rect x="409.03" y="159.90" width="7.40" height="11.25" fill="#cc1236" />
<rect x="418.04" y="80.30" width="7.40" height="7.55" fill="#aa8ebd" />
<rect x="418.04" y="87.80" width="7.40" height="6.15" fill="#58206f" />
<rect x="418.04" y="93.90" width="7.40" height="6.05" fill="#9ed69e" />
<rect x="418.04" y="99.90" width="7.40" height="16.55" fill="#8ca9c6" />
<rect x="418.04" y="116.40" width="7.40" height="7.85" fill="#3db54b" />
<rect x="418.04" y="124.20" width="7.40" height="31.55" fill="#0f4e86" />
<rect x="418.04" y="155.70" width="7.40" height="5.35" fill="#e8899b" />
<rect x="418.04" y="161.00" width="7.40" height="10.15" fill="#cc1236" />
<rect x="427.05" y="83.90" width="7.40" height="2.75" fill="#aa8ebd" />
<rect x="427.05" y="86.60" width="7.40" height="5.15" fill="#58206f" />
<rect x="427.05" y="91.70" width="7.40" height="5.55" fill="#9ed69e" />
<rect x="427.05" y="97.20" width="7.40" height="16.95" fill="#8ca9c6" />
<rect x="427.05" y="114.10" width="7.40" height="6.85" fill="#3db54b" />
<rect x="427.05" y="120.90" width="7.40" height="35.45" fill="#0f4e86" />
<rect x="427.05" y="156.30" width="7.40" height="5.75" fill="#e8899b" />
<rect x="427.05" y="162.00" width="7.40" height="9.15" fill="#cc1236" />
<rect x="436.06" y="90.20" width="7.40" height="5.35" fill="#aa8ebd" />
<rect x="436.06" y="95.50" width="7.40" height="5.35" fill="#58206f" />
<rect x="436.06" y="100.80" width="7.40" height="4.25" fill="#9ed69e" />
<rect x="436.06" y="105.00" width="7.40" height="13.75" fill="#8ca9c6" />
<rect x="436.06" y="118.70" width="7.40" height="6.45" fill="#3db54b" />
<rect x="436.06" y="125.10" width="7.40" height="30.05" fill="#0f4e86" />
<rect x="436.06" y="155.10" width="7.40" height="4.85" fill="#e8899b" />
<rect x="436.06" y="159.90" width="7.40" height="11.25" fill="#cc1236" />
<rect x="445.07" y="94.40" width="7.40" height="7.05" fill="#aa8ebd" />
<rect x="445.07" y="101.40" width="7.40" height="4.75" fill="#58206f" />
<rect x="445.07" y="106.10" width="7.40" height="4.65" fill="#9ed69e" />
<rect x="445.07" y="110.70" width="7.40" height="12.75" fill="#8ca9c6" />
<rect x="445.07" y="123.40" width="7.40" height="5.55" fill="#3db54b" />
<rect x="445.07" y="128.90" width="7.40" height="30.05" fill="#0f4e86" />
<rect x="445.07" y="158.90" width="7.40" height="4.65" fill="#e8899b" />
<rect x="445.07" y="163.50" width="7.40" height="7.65" fill="#cc1236" />
<rect x="454.08" y="101.40" width="7.40" height="6.45" fill="#aa8ebd" />
<rect x="454.08" y="107.80" width="7.40" height="4.25" fill="#58206f" />
<rect x="454.08" y="112.00" width="7.40" height="3.65" fill="#9ed69e" />
<rect x="454.08" y="115.60" width="7.40" height="14.85" fill="#8ca9c6" />
<rect x="454.08" y="130.40" width="7.40" height="4.85" fill="#3db54b" />
<rect x="454.08" y="135.20" width="7.40" height="23.35" fill="#0f4e86" />
<rect x="454.08" y="158.50" width="7.40" height="4.65" fill="#e8899b" />
<rect x="454.08" y="163.10" width="7.40" height="8.05" fill="#cc1236" />
<rect x="463.09" y="101.40" width="7.40" height="7.25" fill="#aa8ebd" />
<rect x="463.09" y="108.60" width="7.40" height="4.25" fill="#58206f" />
<rect x="463.09" y="112.80" width="7.40" height="3.85" fill="#9ed69e" />
<rect x="463.09" y="116.60" width="7.40" height="12.35" fill="#8ca9c6" />
<rect x="463.09" y="128.90" width="7.40" height="5.15" fill="#3db54b" />
<rect x="463.09" y="134.00" width="7.40" height="25.95" fill="#0f4e86" />
<rect x="463.09" y="159.90" width="7.40" height="3.65" fill="#e8899b" />
<rect x="463.09" y="163.50" width="7.40" height="7.65" fill="#cc1236" />
<rect x="472.10" y="103.50" width="7.40" height="3.65" fill="#aa8ebd" />
<rect x="472.10" y="107.10" width="7.40" height="3.25" fill="#58206f" />
<rect x="472.10" y="110.30" width="7.40" height="3.85" fill="#9ed69e" />
<rect x="472.10" y="114.10" width="7.40" height="13.15" fill="#8ca9c6" />
<rect x="472.10" y="127.20" width="7.40" height="5.95" fill="#3db54b" />
<rect x="472.10" y="133.10" width="7.40" height="26.85" fill="#0f4e86" />
<rect x="472.10" y="159.90" width="7.40" height="3.65" fill="#e8899b" />
<rect x="472.10" y="163.50" width="7.40" height="7.65" fill="#cc1236" />
<rect x="481.11" y="108.60" width="7.40" height="6.35" fill="#aa8ebd" />
<rect x="481.11" y="114.90" width="7.40" height="2.15" fill="#58206f" />
<rect x="481.11" y="117.00" width="7.40" height="3.45" fill="#9ed69e" />
<rect x="481.11" y="120.40" width="7.40" height="12.75" fill="#8ca9c6" />
<rect x="481.11" y="133.10" width="7.40" height="4.25" fill="#3db54b" />
<rect x="481.11" y="137.30" width="7.40" height="24.75" fill="#0f4e86" />
<rect x="481.11" y="162.00" width="7.40" height="2.85" fill="#e8899b" />
<rect x="481.11" y="164.80" width="7.40" height="6.35" fill="#cc1236" />
<rect x="490.12" y="117.70" width="7.40" height="3.25" fill="#aa8ebd" />
<rect x="490.12" y="120.90" width="7.40" height="2.15" fill="#58206f" />
<rect x="490.12" y="123.00" width="7.40" height="4.65" fill="#9ed69e" />
<rect x="490.12" y="127.60" width="7.40" height="11.85" fill="#8ca9c6" />
<rect x="490.12" y="139.40" width="7.40" height="6.45" fill="#3db54b" />
<rect x="490.12" y="145.80" width="7.40" height="14.85" fill="#0f4e86" />
<rect x="490.12" y="160.60" width="7.40" height="4.25" fill="#e8899b" />
<rect x="490.12" y="164.80" width="7.40" height="6.35" fill="#cc1236" />
<rect x="499.13" y="136.10" width="7.40" height="6.95" fill="#aa8ebd" />
<rect x="499.13" y="143.00" width="7.40" height="2.15" fill="#58206f" />
<rect x="499.13" y="145.10" width="7.40" height="2.25" fill="#9ed69e" />
<rect x="499.13" y="147.30" width="7.40" height="7.85" fill="#8ca9c6" />
<rect x="499.13" y="155.10" width="7.40" height="3.85" fill="#3db54b" />
<rect x="499.13" y="158.90" width="7.40" height="7.45" fill="#0f4e86" />
<rect x="499.13" y="166.30" width="7.40" height="2.15" fill="#e8899b" />
<rect x="499.13" y="168.40" width="7.40" height="2.75" fill="#cc1236" />
<text x="441.2" y="21.7" font-size="8.6" fill="#231f20" stroke="#231f20" stroke-width="0.18" text-anchor="middle" font-weight="normal" textLength="37" lengthAdjust="spacingAndGlyphs" >Transitions</text>
<text x="489.8" y="21.7" font-size="8.6" fill="#231f20" stroke="#231f20" stroke-width="0.18" text-anchor="middle" font-weight="normal" textLength="46.3" lengthAdjust="spacingAndGlyphs" >Transversions</text>
<text x="441.2" y="56.0" font-size="8.6" fill="#231f20" stroke="#231f20" stroke-width="0.18" text-anchor="middle" font-weight="normal" textLength="26.4" lengthAdjust="spacingAndGlyphs" >INDELs</text>
<rect x="429.00" y="25.40" width="6.00" height="5.90" fill="#8ca9c6" />
<text x="438.6" y="31.299999999999997" font-size="8.6" fill="#231f20" stroke="#231f20" stroke-width="0.18" text-anchor="start" font-weight="normal" textLength="14.8" lengthAdjust="spacingAndGlyphs" >T&gt;C</text>
<rect x="429.00" y="36.40" width="6.00" height="5.90" fill="#0f4e86" />
<text x="438.6" y="42.3" font-size="8.6" fill="#231f20" stroke="#231f20" stroke-width="0.18" text-anchor="start" font-weight="normal" textLength="14.8" lengthAdjust="spacingAndGlyphs" >C&gt;T</text>
<rect x="429.00" y="60.30" width="6.00" height="5.90" fill="#aa8ebd" />
<text x="438.6" y="66.2" font-size="8.6" fill="#231f20" stroke="#231f20" stroke-width="0.18" text-anchor="start" font-weight="normal" textLength="14.2" lengthAdjust="spacingAndGlyphs" >DEL</text>
<rect x="429.00" y="70.90" width="6.00" height="5.90" fill="#58206f" />
<text x="438.6" y="76.80000000000001" font-size="8.6" fill="#231f20" stroke="#231f20" stroke-width="0.18" text-anchor="start" font-weight="normal" textLength="10.5" lengthAdjust="spacingAndGlyphs" >INS</text>
<rect x="482.60" y="25.40" width="6.10" height="5.90" fill="#9ed69e" />
<text x="492.0" y="31.299999999999997" font-size="8.6" fill="#231f20" stroke="#231f20" stroke-width="0.18" text-anchor="start" font-weight="normal" textLength="14.8" lengthAdjust="spacingAndGlyphs" >T&gt;G</text>
<rect x="482.60" y="36.40" width="6.10" height="5.90" fill="#3db54b" />
<text x="492.0" y="42.3" font-size="8.6" fill="#231f20" stroke="#231f20" stroke-width="0.18" text-anchor="start" font-weight="normal" textLength="14.8" lengthAdjust="spacingAndGlyphs" >T&gt;A</text>
<rect x="482.60" y="47.00" width="6.10" height="5.90" fill="#e8899b" />
<text x="492.0" y="52.9" font-size="8.6" fill="#231f20" stroke="#231f20" stroke-width="0.18" text-anchor="start" font-weight="normal" textLength="14.8" lengthAdjust="spacingAndGlyphs" >C&gt;G</text>
<rect x="482.60" y="57.50" width="6.10" height="5.90" fill="#cc1236" />
<text x="492.0" y="63.4" font-size="8.6" fill="#231f20" stroke="#231f20" stroke-width="0.18" text-anchor="start" font-weight="normal" textLength="14.8" lengthAdjust="spacingAndGlyphs" >C&gt;A</text>
<line x1="55.2" y1="197.9" x2="55.2" y2="304.4" stroke="#231f20" stroke-width="1.1" />
<line x1="55.2" y1="303.9" x2="139.4" y2="303.9" stroke="#231f20" stroke-width="1.1" />
<line x1="51.6" y1="202.9" x2="55.2" y2="202.9" stroke="#231f20" stroke-width="1" />
<text x="49.6" y="205.9" font-size="8.6" fill="#231f20" stroke="#231f20" stroke-width="0.18" text-anchor="end" font-weight="normal" textLength="18.4" lengthAdjust="spacingAndGlyphs" >3000</text>
<line x1="51.6" y1="236.4" x2="55.2" y2="236.4" stroke="#231f20" stroke-width="1" />
<text x="49.6" y="239.4" font-size="8.6" fill="#231f20" stroke="#231f20" stroke-width="0.18" text-anchor="end" font-weight="normal" textLength="18.4" lengthAdjust="spacingAndGlyphs" >2000</text>
<line x1="51.6" y1="269.8" x2="55.2" y2="269.8" stroke="#231f20" stroke-width="1" />
<text x="49.6" y="272.8" font-size="8.6" fill="#231f20" stroke="#231f20" stroke-width="0.18" text-anchor="end" font-weight="normal" textLength="18.4" lengthAdjust="spacingAndGlyphs" >1000</text>
<line x1="51.6" y1="303.3" x2="55.2" y2="303.3" stroke="#231f20" stroke-width="1" />
<text x="49.6" y="306.3" font-size="8.6" fill="#231f20" stroke="#231f20" stroke-width="0.18" text-anchor="end" font-weight="normal" textLength="4.4" lengthAdjust="spacingAndGlyphs" >0</text>
<text transform="translate(26.0,250.6) rotate(-90)" font-size="9.2" fill="#231f20" stroke="#231f20" stroke-width="0.2" text-anchor="middle" textLength="58.6" lengthAdjust="spacingAndGlyphs">Mutation number</text>
<rect x="62.70" y="301.60" width="17.60" height="2.00" fill="#cc1236" />
<line x1="71.1" y1="303.9" x2="71.1" y2="306.6" stroke="#231f20" stroke-width="1" />
<line x1="117.1" y1="303.9" x2="117.1" y2="306.6" stroke="#231f20" stroke-width="1" />
<text x="70.45" y="316.4" font-size="8.0" fill="#231f20" stroke="#231f20" stroke-width="0.18" text-anchor="middle" font-weight="normal" textLength="26.5" lengthAdjust="spacingAndGlyphs" >Coding</text>
<text x="117.4" y="316.4" font-size="8.0" fill="#231f20" stroke="#231f20" stroke-width="0.18" text-anchor="middle" font-weight="normal" textLength="39.6" lengthAdjust="spacingAndGlyphs" >Noncoding</text>
<line x1="117.2" y1="208.8" x2="117.2" y2="225.7" stroke="#231f20" stroke-width="0.9" />
<line x1="117.2" y1="252.7" x2="117.2" y2="278.8" stroke="#231f20" stroke-width="0.9" />
<rect x="109.4" y="226.2" width="16.3" height="26.0" fill="#5080ae" stroke="#2a5b8d" stroke-width="1"/>
<rect x="108.90" y="229.60" width="17.30" height="2.30" fill="#1f5289" />
<text x="77.3" y="194.3" font-size="8.2" fill="#231f20" stroke="#231f20" stroke-width="0.18" text-anchor="start" font-weight="normal" textLength="67.6" lengthAdjust="spacingAndGlyphs" >Coding median: 18</text>
<text x="77.3" y="204.2" font-size="8.2" fill="#231f20" stroke="#231f20" stroke-width="0.18" text-anchor="start" font-weight="normal" textLength="96.9" lengthAdjust="spacingAndGlyphs" >Noncoding median: 2228.5</text>
<path d="M342.022,223.852 A48.0,48.0 0 0 1 344.250,223.800 L344.250,245.200 A26.6,26.6 0 0 0 343.016,245.229 Z" fill="#3bb54a"/>
<path d="M344.250,223.800 A48.0,48.0 0 0 1 348.100,223.955 L346.383,245.286 A26.6,26.6 0 0 0 344.250,245.200 Z" fill="#0c5e48"/>
<path d="M348.100,223.955 A48.0,48.0 0 0 1 350.515,224.211 L347.722,245.428 A26.6,26.6 0 0 0 346.383,245.286 Z" fill="#5b2a86"/>
<path d="M350.515,224.211 A48.0,48.0 0 0 1 368.540,230.399 L357.710,248.857 A26.6,26.6 0 0 0 347.722,245.428 Z" fill="#f7941d"/>
<path d="M368.540,230.399 A48.0,48.0 0 0 1 375.867,307.916 L361.771,291.814 A26.6,26.6 0 0 0 357.710,248.857 Z" fill="#c8102e"/>
<path d="M375.867,307.916 A48.0,48.0 0 1 1 342.022,223.852 L343.016,245.229 A26.6,26.6 0 1 0 361.771,291.814 Z" fill="#124e86"/>
<polyline points="325.8,204.4 330.6,204.4 343.1,223.5" fill="none" stroke="#231f20" stroke-width="1.0"/>
<line x1="346.0" y1="202.3" x2="346.0" y2="223.5" stroke="#231f20" stroke-width="1.0" />
<polyline points="367.1,204.4 363.3,204.4 349.8,223.5" fill="none" stroke="#231f20" stroke-width="1.0"/>
<text x="302" y="207.5" font-size="7.8" fill="#231f20" stroke="#231f20" stroke-width="0.18" text-anchor="start" font-weight="normal" textLength="22" lengthAdjust="spacingAndGlyphs" >0.74%</text>
<text x="335.7" y="200.5" font-size="7.8" fill="#231f20" stroke="#231f20" stroke-width="0.18" text-anchor="start" font-weight="normal" textLength="21.5" lengthAdjust="spacingAndGlyphs" >1.28%</text>
<text x="370.2" y="206.9" font-size="7.8" fill="#231f20" stroke="#231f20" stroke-width="0.18" text-anchor="start" font-weight="normal" textLength="22.1" lengthAdjust="spacingAndGlyphs" >0.81%</text>
<text x="361.7" y="225.60000000000002" font-size="7.8" fill="#231f20" stroke="#231f20" stroke-width="0.18" text-anchor="start" font-weight="normal" textLength="22" lengthAdjust="spacingAndGlyphs" >6.37%</text>
<text x="394.9" y="271.1" font-size="7.8" fill="#231f20" stroke="#231f20" stroke-width="0.18" text-anchor="start" font-weight="normal" textLength="26.5" lengthAdjust="spacingAndGlyphs" >30.11%</text>
<text x="265" y="281.40000000000003" font-size="7.8" fill="#231f20" stroke="#231f20" stroke-width="0.18" text-anchor="start" font-weight="normal" textLength="26.5" lengthAdjust="spacingAndGlyphs" >60.69%</text>
<rect x="442.50" y="239.70" width="5.70" height="5.70" fill="#124e86" />
<text x="451.1" y="245.2" font-size="7.5" fill="#231f20" stroke="#231f20" stroke-width="0.18" text-anchor="start" font-weight="normal" textLength="33.4" lengthAdjust="spacingAndGlyphs" >Intergenic</text>
<rect x="442.50" y="250.32" width="5.70" height="5.70" fill="#c8102e" />
<text x="451.1" y="255.82" font-size="7.5" fill="#231f20" stroke="#231f20" stroke-width="0.18" text-anchor="start" font-weight="normal" textLength="19.6" lengthAdjust="spacingAndGlyphs" >Intron</text>
<rect x="442.50" y="260.94" width="5.70" height="5.70" fill="#f7941d" />
<text x="451.1" y="266.44" font-size="7.5" fill="#231f20" stroke="#231f20" stroke-width="0.18" text-anchor="start" font-weight="normal" textLength="22.4" lengthAdjust="spacingAndGlyphs" >ncRNA</text>
<rect x="442.50" y="271.56" width="5.70" height="5.70" fill="#5b2a86" />
<text x="451.1" y="277.06" font-size="7.5" fill="#231f20" stroke="#231f20" stroke-width="0.18" text-anchor="start" font-weight="normal" textLength="39.5" lengthAdjust="spacingAndGlyphs" >CDS+Splice</text>
<rect x="442.50" y="282.18" width="5.70" height="5.70" fill="#0c5e48" />
<text x="451.1" y="287.68" font-size="7.5" fill="#231f20" stroke="#231f20" stroke-width="0.18" text-anchor="start" font-weight="normal" textLength="48.1" lengthAdjust="spacingAndGlyphs" >3&#8217;UTR+3&#8217;Flank</text>
<rect x="442.50" y="292.80" width="5.70" height="5.70" fill="#3bb54a" />
<text x="451.1" y="298.29999999999995" font-size="7.5" fill="#231f20" stroke="#231f20" stroke-width="0.18" text-anchor="start" font-weight="normal" textLength="48.1" lengthAdjust="spacingAndGlyphs" >5&#8217;UTR+5&#8217;Flank</text>
<line x1="55.2" y1="342.3" x2="55.2" y2="471.2" stroke="#231f20" stroke-width="1.4" />
<line x1="55.2" y1="470.5" x2="227.5" y2="470.5" stroke="#231f20" stroke-width="1.4" />
<line x1="51.7" y1="361.4" x2="55.2" y2="361.4" stroke="#231f20" stroke-width="1" />
<text x="48.5" y="364.4" font-size="8.4" fill="#231f20" stroke="#231f20" stroke-width="0.18" text-anchor="end" font-weight="normal" textLength="27.5" lengthAdjust="spacingAndGlyphs" >100,000</text>
<line x1="51.7" y1="397.9" x2="55.2" y2="397.9" stroke="#231f20" stroke-width="1" />
<text x="48.5" y="400.9" font-size="8.4" fill="#231f20" stroke="#231f20" stroke-width="0.18" text-anchor="end" font-weight="normal" textLength="23.3" lengthAdjust="spacingAndGlyphs" >75,000</text>
<line x1="51.7" y1="434.0" x2="55.2" y2="434.0" stroke="#231f20" stroke-width="1" />
<text x="48.5" y="437.0" font-size="8.4" fill="#231f20" stroke="#231f20" stroke-width="0.18" text-anchor="end" font-weight="normal" textLength="23.3" lengthAdjust="spacingAndGlyphs" >50,000</text>
<text transform="translate(14.8,407.4) rotate(-90)" font-size="8.4" fill="#231f20" stroke="#231f20" stroke-width="0.2" text-anchor="middle" textLength="123.4" lengthAdjust="spacingAndGlyphs">Number of H3K27ac-positive regions</text>
<line x1="63.4" y1="470.5" x2="63.4" y2="474.2" stroke="#231f20" stroke-width="1" />
<text x="63.4" y="483.9" font-size="8.6" fill="#231f20" stroke="#231f20" stroke-width="0.18" text-anchor="middle" font-weight="normal" textLength="4.8" lengthAdjust="spacingAndGlyphs" >0</text>
<line x1="116.56666666666666" y1="470.5" x2="116.56666666666666" y2="474.2" stroke="#231f20" stroke-width="1" />
<text x="116.56666666666666" y="483.9" font-size="8.6" fill="#231f20" stroke="#231f20" stroke-width="0.18" text-anchor="middle" font-weight="normal" textLength="9.6" lengthAdjust="spacingAndGlyphs" >10</text>
<line x1="169.73333333333332" y1="470.5" x2="169.73333333333332" y2="474.2" stroke="#231f20" stroke-width="1" />
<text x="169.73333333333332" y="483.9" font-size="8.6" fill="#231f20" stroke="#231f20" stroke-width="0.18" text-anchor="middle" font-weight="normal" textLength="9.6" lengthAdjust="spacingAndGlyphs" >20</text>
<line x1="222.9" y1="470.5" x2="222.9" y2="474.2" stroke="#231f20" stroke-width="1" />
<text x="222.9" y="483.9" font-size="8.6" fill="#231f20" stroke="#231f20" stroke-width="0.18" text-anchor="middle" font-weight="normal" textLength="9.6" lengthAdjust="spacingAndGlyphs" >30</text>
<text x="141.8" y="496.2" font-size="9.0" fill="#231f20" stroke="#231f20" stroke-width="0.18" text-anchor="middle" font-weight="normal" textLength="65.5" lengthAdjust="spacingAndGlyphs" >Number of samples</text>
<line x1="55.7" y1="358.5" x2="228.3" y2="358.5" stroke="#e8828f" stroke-width="0.6" stroke-dasharray="1.2,0.8"/>
<line x1="146.8" y1="364" x2="146.8" y2="470" stroke="#999" stroke-width="0.9" stroke-dasharray="1,0.6"/>
<text x="151.3" y="416.0" font-size="7.6" fill="#231f20" stroke="#231f20" stroke-width="0.18" text-anchor="start" font-weight="normal" textLength="22.4" lengthAdjust="spacingAndGlyphs" >97.86%</text>
<line x1="68.3" y1="425" x2="68.3" y2="451.9" stroke="#2a2a2a" stroke-width="1.1" />
<line x1="73.5" y1="411.5" x2="73.5" y2="431.7" stroke="#2a2a2a" stroke-width="1.1" />
<line x1="78.7" y1="402.3" x2="78.7" y2="419.6" stroke="#2a2a2a" stroke-width="1.1" />
<line x1="84" y1="395.2" x2="84" y2="410.6" stroke="#2a2a2a" stroke-width="1.1" />
<line x1="89.2" y1="389.4" x2="89.2" y2="403.5" stroke="#2a2a2a" stroke-width="1.1" />
<line x1="94.6" y1="384.2" x2="94.6" y2="397.1" stroke="#2a2a2a" stroke-width="1.1" />
<line x1="99.8" y1="380.8" x2="99.8" y2="391.9" stroke="#2a2a2a" stroke-width="1.1" />
<line x1="105.2" y1="377.9" x2="105.2" y2="387.5" stroke="#2a2a2a" stroke-width="1.1" />
<line x1="110.4" y1="374.6" x2="110.4" y2="383.7" stroke="#2a2a2a" stroke-width="1.1" />
<line x1="115.8" y1="372.7" x2="115.8" y2="380.4" stroke="#2a2a2a" stroke-width="1.1" />
<line x1="121" y1="370.2" x2="121" y2="376.9" stroke="#2a2a2a" stroke-width="1.1" />
<line x1="126" y1="367.7" x2="126" y2="373.5" stroke="#2a2a2a" stroke-width="1.1" />
<line x1="131.2" y1="365.8" x2="131.2" y2="370.8" stroke="#2a2a2a" stroke-width="1.1" />
<line x1="136.3" y1="363.8" x2="136.3" y2="367.7" stroke="#2a2a2a" stroke-width="1.1" />
<line x1="141.7" y1="362.3" x2="141.7" y2="365.2" stroke="#2a2a2a" stroke-width="1.1" />
<line x1="146.9" y1="360.8" x2="146.9" y2="362.6" stroke="#2a2a2a" stroke-width="1.1" />
<path d="M68.3,437 C69.17,434.50 71.77,426.17 73.5,422 C75.23,417.83 76.95,415.00 78.7,412 C80.45,409.00 82.25,406.42 84,404 C85.75,401.58 87.43,399.50 89.2,397.5 C90.97,395.50 92.83,393.67 94.6,392 C96.37,390.33 98.03,388.97 99.8,387.5 C101.57,386.03 103.43,384.52 105.2,383.2 C106.97,381.88 108.63,380.75 110.4,379.6 C112.17,378.45 114.03,377.33 115.8,376.3 C117.57,375.27 119.30,374.30 121,373.4 C122.70,372.50 124.30,371.70 126,370.9 C127.70,370.10 129.48,369.32 131.2,368.6 C132.92,367.88 134.57,367.20 136.3,366.6 C138.03,366.00 139.87,365.47 141.6,365 C143.33,364.53 143.97,364.30 146.7,363.8 C149.43,363.30 154.12,362.50 158,362 C161.88,361.50 166.33,361.17 170,360.8 C173.67,360.43 175.00,360.08 180,359.8 C185.00,359.52 193.30,359.28 200,359.1 C206.70,358.92 216.83,358.77 220.2,358.7" fill="none" stroke="#1a5a96" stroke-width="1.1"/>
<circle cx="68.3" cy="441.3" r="1.7" fill="#12508a"/>
<circle cx="73.5" cy="420.2" r="1.7" fill="#12508a"/>
<circle cx="78.7" cy="411.2" r="1.7" fill="#12508a"/>
<circle cx="84" cy="402.3" r="1.7" fill="#12508a"/>
<circle cx="89.2" cy="396.2" r="1.7" fill="#12508a"/>
<circle cx="94.6" cy="391" r="1.7" fill="#12508a"/>
<circle cx="99.8" cy="386.5" r="1.7" fill="#12508a"/>
<circle cx="105.2" cy="382.1" r="1.7" fill="#12508a"/>
<circle cx="110.4" cy="378.8" r="1.7" fill="#12508a"/>
<circle cx="115.8" cy="375.4" r="1.7" fill="#12508a"/>
<circle cx="121" cy="372.7" r="1.7" fill="#12508a"/>
<circle cx="126" cy="370.2" r="1.7" fill="#12508a"/>
<circle cx="131.2" cy="367.9" r="1.7" fill="#12508a"/>
<circle cx="136.3" cy="365.4" r="1.7" fill="#12508a"/>
<circle cx="141.7" cy="363.5" r="1.7" fill="#12508a"/>
<circle cx="146.9" cy="361.5" r="1.7" fill="#12508a"/>
<line x1="289.8" y1="339.8" x2="289.8" y2="470.9" stroke="#231f20" stroke-width="1.1" />
<line x1="289.8" y1="470.4" x2="452.3" y2="470.4" stroke="#231f20" stroke-width="1.1" />
<line x1="286.3" y1="346.5" x2="289.8" y2="346.5" stroke="#231f20" stroke-width="1" />
<text x="283.7" y="349.5" font-size="8.5" fill="#231f20" stroke="#231f20" stroke-width="0.18" text-anchor="end" font-weight="normal" textLength="17.5" lengthAdjust="spacingAndGlyphs" >1100</text>
<line x1="286.3" y1="408.5" x2="289.8" y2="408.5" stroke="#231f20" stroke-width="1" />
<text x="283.7" y="411.5" font-size="8.5" fill="#231f20" stroke="#231f20" stroke-width="0.18" text-anchor="end" font-weight="normal" textLength="13.4" lengthAdjust="spacingAndGlyphs" >550</text>
<line x1="286.3" y1="470.4" x2="289.8" y2="470.4" stroke="#231f20" stroke-width="1" />
<text x="283.7" y="473.4" font-size="8.5" fill="#231f20" stroke="#231f20" stroke-width="0.18" text-anchor="end" font-weight="normal" textLength="4.4" lengthAdjust="spacingAndGlyphs" >0</text>
<text transform="translate(260.3,405.7) rotate(-90)" font-size="8.4" fill="#231f20" stroke="#231f20" stroke-width="0.2" text-anchor="middle" textLength="83.5" lengthAdjust="spacingAndGlyphs">Number of mutated CREs</text>
<text x="370.9" y="337.2" font-size="8.6" fill="#231f20" stroke="#231f20" stroke-width="0.18" text-anchor="middle" font-weight="normal" textLength="104.4" lengthAdjust="spacingAndGlyphs" >Mutated CREs (n=2,009)</text>
<rect x="292.30" y="342.40" width="17.30" height="128.00" fill="#c8102e" />
<rect x="311.73" y="415.10" width="17.30" height="55.30" fill="#124e86" />
<rect x="331.16" y="449.20" width="17.30" height="21.20" fill="#8e87c8" />
<rect x="350.59" y="464.30" width="17.30" height="6.10" fill="#434d5e" />
<rect x="370.02" y="464.80" width="17.30" height="5.60" fill="#4e2170" />
<rect x="389.45" y="466.90" width="17.30" height="3.50" fill="#f7941d" />
<rect x="408.88" y="467.30" width="17.30" height="3.10" fill="#0c5e48" />
<rect x="428.31" y="468.70" width="17.30" height="1.70" fill="#3bb54a" />
<rect x="442.50" y="346.00" width="6.10" height="6.00" fill="#c8102e" />
<text x="451.4" y="351.7" font-size="7.5" fill="#231f20" stroke="#231f20" stroke-width="0.18" text-anchor="start" font-weight="normal" textLength="46.9" lengthAdjust="spacingAndGlyphs" >Intron (56.6%)</text>
<rect x="442.50" y="356.64" width="6.10" height="6.00" fill="#124e86" />
<text x="451.4" y="362.34" font-size="7.5" fill="#231f20" stroke="#231f20" stroke-width="0.18" text-anchor="start" font-weight="normal" textLength="60" lengthAdjust="spacingAndGlyphs" >Intergenic (24.5%)</text>
<rect x="442.50" y="367.28" width="6.10" height="6.00" fill="#8e87c8" />
<text x="451.4" y="372.97999999999996" font-size="7.5" fill="#231f20" stroke="#231f20" stroke-width="0.18" text-anchor="start" font-weight="normal" textLength="54.3" lengthAdjust="spacingAndGlyphs" >Promoter (9.6%)</text>
<rect x="442.50" y="377.92" width="6.10" height="6.00" fill="#434d5e" />
<text x="451.4" y="383.62" font-size="7.5" fill="#231f20" stroke="#231f20" stroke-width="0.18" text-anchor="start" font-weight="normal" textLength="35" lengthAdjust="spacingAndGlyphs" >TTS (2.8%)</text>
<rect x="442.50" y="388.56" width="6.10" height="6.00" fill="#4e2170" />
<text x="451.4" y="394.26" font-size="7.5" fill="#231f20" stroke="#231f20" stroke-width="0.18" text-anchor="start" font-weight="normal" textLength="39.2" lengthAdjust="spacingAndGlyphs" >Exon (2.6%)</text>
<rect x="442.50" y="399.20" width="6.10" height="6.00" fill="#f7941d" />
<text x="451.4" y="404.9" font-size="7.5" fill="#231f20" stroke="#231f20" stroke-width="0.18" text-anchor="start" font-weight="normal" textLength="46.1" lengthAdjust="spacingAndGlyphs" >ncRNA (1.6%)</text>
<rect x="442.50" y="409.84" width="6.10" height="6.00" fill="#0c5e48" />
<text x="451.4" y="415.54" font-size="7.5" fill="#231f20" stroke="#231f20" stroke-width="0.18" text-anchor="start" font-weight="normal" textLength="42.8" lengthAdjust="spacingAndGlyphs" >3&#8217;UTR (1.4%)</text>
<rect x="442.50" y="420.48" width="6.10" height="6.00" fill="#3bb54a" />
<text x="451.4" y="426.18" font-size="7.5" fill="#231f20" stroke="#231f20" stroke-width="0.18" text-anchor="start" font-weight="normal" textLength="42.5" lengthAdjust="spacingAndGlyphs" >5&#8217;UTR (0.8%)</text>
<text x="258.75" y="515.0" font-size="9.8" fill="#231f20" stroke="#231f20" stroke-width="0.18" text-anchor="middle" font-weight="normal" textLength="95" lengthAdjust="spacingAndGlyphs" >GO biological process</text>
<rect x="59.8" y="519.9" width="428.3" height="100" fill="none" stroke="#000" stroke-width="1.5"/>
<circle cx="69.30" cy="525.50" r="5.1" fill="#1b4a25"/>
<circle cx="69.30" cy="536.53" r="5.1" fill="#4f7354"/>
<circle cx="69.30" cy="547.56" r="5.1" fill="#88a28b"/>
<circle cx="69.30" cy="558.59" r="5.1" fill="#d2ddd0"/>
<circle cx="69.30" cy="569.62" r="5.1" fill="#d2ddd0"/>
<circle cx="69.30" cy="580.65" r="5.1" fill="#d2ddd0"/>
<circle cx="69.30" cy="591.68" r="5.1" fill="#88a28b"/>
<circle cx="69.30" cy="602.71" r="5.1" fill="#bfcfbe"/>
<circle cx="69.30" cy="613.74" r="5.1" fill="#a6bba7"/>
<circle cx="85.02" cy="525.50" r="5.1" fill="#345c3b"/>
<circle cx="85.02" cy="536.53" r="5.1" fill="#a6bba7"/>
<circle cx="85.02" cy="547.56" r="5.1" fill="#d2ddd0"/>
<circle cx="85.02" cy="558.59" r="5.1" fill="#e3ece0"/>
<circle cx="85.02" cy="569.62" r="5.1" fill="#d2ddd0"/>
<circle cx="85.02" cy="580.65" r="5.1" fill="#bfcfbe"/>
<circle cx="85.02" cy="591.68" r="5.1" fill="#d2ddd0"/>
<circle cx="85.02" cy="602.71" r="5.1" fill="#e3ece0"/>
<circle cx="85.02" cy="613.74" r="5.1" fill="#e3ece0"/>
<circle cx="100.74" cy="525.50" r="5.1" fill="#1b4a25"/>
<circle cx="100.74" cy="536.53" r="5.1" fill="#4f7354"/>
<circle cx="100.74" cy="547.56" r="5.1" fill="#1b4a25"/>
<circle cx="100.74" cy="558.59" r="5.1" fill="#d2ddd0"/>
<circle cx="100.74" cy="569.62" r="5.1" fill="#e3ece0"/>
<circle cx="100.74" cy="580.65" r="5.1" fill="#d2ddd0"/>
<circle cx="100.74" cy="591.68" r="5.1" fill="#d2ddd0"/>
<circle cx="100.74" cy="602.71" r="5.1" fill="#d2ddd0"/>
<circle cx="100.74" cy="613.74" r="5.1" fill="#e3ece0"/>
<circle cx="116.46" cy="525.50" r="5.1" fill="#a6bba7"/>
<circle cx="116.46" cy="536.53" r="5.1" fill="#1b4a25"/>
<circle cx="116.46" cy="547.56" r="5.1" fill="#e3ece0"/>
<circle cx="116.46" cy="558.59" r="5.1" fill="#e3ece0"/>
<circle cx="116.46" cy="569.62" r="5.1" fill="#88a28b"/>
<circle cx="116.46" cy="580.65" r="5.1" fill="#d2ddd0"/>
<circle cx="116.46" cy="591.68" r="5.1" fill="#88a28b"/>
<circle cx="116.46" cy="602.71" r="5.1" fill="#a6bba7"/>
<circle cx="116.46" cy="613.74" r="5.1" fill="#88a28b"/>
<circle cx="132.18" cy="525.50" r="5.1" fill="#345c3b"/>
<circle cx="132.18" cy="536.53" r="5.1" fill="#345c3b"/>
<circle cx="132.18" cy="547.56" r="5.1" fill="#1b4a25"/>
<circle cx="132.18" cy="558.59" r="5.1" fill="#bfcfbe"/>
<circle cx="132.18" cy="569.62" r="5.1" fill="#d2ddd0"/>
<circle cx="132.18" cy="580.65" r="5.1" fill="#a6bba7"/>
<circle cx="132.18" cy="591.68" r="5.1" fill="#d2ddd0"/>
<circle cx="132.18" cy="602.71" r="5.1" fill="#e3ece0"/>
<circle cx="132.18" cy="613.74" r="5.1" fill="#d2ddd0"/>
<circle cx="147.90" cy="525.50" r="5.1" fill="#6a8a6e"/>
<circle cx="147.90" cy="536.53" r="5.1" fill="#4f7354"/>
<circle cx="147.90" cy="547.56" r="5.1" fill="#1b4a25"/>
<circle cx="147.90" cy="558.59" r="5.1" fill="#d2ddd0"/>
<circle cx="147.90" cy="569.62" r="5.1" fill="#d2ddd0"/>
<circle cx="147.90" cy="580.65" r="5.1" fill="#e3ece0"/>
<circle cx="147.90" cy="591.68" r="5.1" fill="#bfcfbe"/>
<circle cx="147.90" cy="602.71" r="5.1" fill="#d2ddd0"/>
<circle cx="147.90" cy="613.74" r="5.1" fill="#bfcfbe"/>
<circle cx="163.62" cy="525.50" r="5.1" fill="#4f7354"/>
<circle cx="163.62" cy="536.53" r="5.1" fill="#6a8a6e"/>
<circle cx="163.62" cy="547.56" r="5.1" fill="#1b4a25"/>
<circle cx="163.62" cy="558.59" r="5.1" fill="#d2ddd0"/>
<circle cx="163.62" cy="569.62" r="5.1" fill="#e3ece0"/>
<circle cx="163.62" cy="580.65" r="5.1" fill="#d2ddd0"/>
<circle cx="163.62" cy="591.68" r="5.1" fill="#d2ddd0"/>
<circle cx="163.62" cy="602.71" r="5.1" fill="#e3ece0"/>
<circle cx="163.62" cy="613.74" r="5.1" fill="#e3ece0"/>
<circle cx="179.34" cy="525.50" r="5.1" fill="#a6bba7"/>
<circle cx="179.34" cy="536.53" r="5.1" fill="#a6bba7"/>
<circle cx="179.34" cy="547.56" r="5.1" fill="#1b4a25"/>
<circle cx="179.34" cy="558.59" r="5.1" fill="#d2ddd0"/>
<circle cx="179.34" cy="569.62" r="5.1" fill="#e3ece0"/>
<circle cx="179.34" cy="580.65" r="5.1" fill="#e3ece0"/>
<circle cx="179.34" cy="591.68" r="5.1" fill="#e3ece0"/>
<circle cx="179.34" cy="602.71" r="5.1" fill="#e3ece0"/>
<circle cx="179.34" cy="613.74" r="5.1" fill="#d2ddd0"/>
<circle cx="195.06" cy="525.50" r="5.1" fill="#88a28b"/>
<circle cx="195.06" cy="536.53" r="5.1" fill="#a6bba7"/>
<circle cx="195.06" cy="547.56" r="5.1" fill="#1b4a25"/>
<circle cx="195.06" cy="558.59" r="5.1" fill="#e3ece0"/>
<circle cx="195.06" cy="569.62" r="5.1" fill="#e3ece0"/>
<circle cx="195.06" cy="580.65" r="5.1" fill="#e3ece0"/>
<circle cx="195.06" cy="591.68" r="5.1" fill="#e3ece0"/>
<circle cx="195.06" cy="602.71" r="5.1" fill="#e3ece0"/>
<circle cx="195.06" cy="613.74" r="5.1" fill="#e3ece0"/>
<circle cx="210.78" cy="525.50" r="5.1" fill="#bfcfbe"/>
<circle cx="210.78" cy="536.53" r="5.1" fill="#d2ddd0"/>
<circle cx="210.78" cy="547.56" r="5.1" fill="#a6bba7"/>
<circle cx="210.78" cy="558.59" r="5.1" fill="#345c3b"/>
<circle cx="210.78" cy="569.62" r="5.1" fill="#88a28b"/>
<circle cx="210.78" cy="580.65" r="5.1" fill="#bfcfbe"/>
<circle cx="210.78" cy="591.68" r="5.1" fill="#d2ddd0"/>
<circle cx="210.78" cy="602.71" r="5.1" fill="#bfcfbe"/>
<circle cx="210.78" cy="613.74" r="5.1" fill="#bfcfbe"/>
<circle cx="226.50" cy="525.50" r="5.1" fill="#e3ece0"/>
<circle cx="226.50" cy="536.53" r="5.1" fill="#88a28b"/>
<circle cx="226.50" cy="547.56" r="5.1" fill="#bfcfbe"/>
<circle cx="226.50" cy="558.59" r="5.1" fill="#4f7354"/>
<circle cx="226.50" cy="569.62" r="5.1" fill="#6a8a6e"/>
<circle cx="226.50" cy="580.65" r="5.1" fill="#bfcfbe"/>
<circle cx="226.50" cy="591.68" r="5.1" fill="#a6bba7"/>
<circle cx="226.50" cy="602.71" r="5.1" fill="#88a28b"/>
<circle cx="226.50" cy="613.74" r="5.1" fill="#88a28b"/>
<circle cx="242.22" cy="525.50" r="5.1" fill="#d2ddd0"/>
<circle cx="242.22" cy="536.53" r="5.1" fill="#bfcfbe"/>
<circle cx="242.22" cy="547.56" r="5.1" fill="#a6bba7"/>
<circle cx="242.22" cy="558.59" r="5.1" fill="#6a8a6e"/>
<circle cx="242.22" cy="569.62" r="5.1" fill="#bfcfbe"/>
<circle cx="242.22" cy="580.65" r="5.1" fill="#bfcfbe"/>
<circle cx="242.22" cy="591.68" r="5.1" fill="#bfcfbe"/>
<circle cx="242.22" cy="602.71" r="5.1" fill="#e3ece0"/>
<circle cx="242.22" cy="613.74" r="5.1" fill="#d2ddd0"/>
<circle cx="257.94" cy="525.50" r="5.1" fill="#e3ece0"/>
<circle cx="257.94" cy="536.53" r="5.1" fill="#88a28b"/>
<circle cx="257.94" cy="547.56" r="5.1" fill="#88a28b"/>
<circle cx="257.94" cy="558.59" r="5.1" fill="#bfcfbe"/>
<circle cx="257.94" cy="569.62" r="5.1" fill="#1b4a25"/>
<circle cx="257.94" cy="580.65" r="5.1" fill="#88a28b"/>
<circle cx="257.94" cy="591.68" r="5.1" fill="#88a28b"/>
<circle cx="257.94" cy="602.71" r="5.1" fill="#6a8a6e"/>
<circle cx="257.94" cy="613.74" r="5.1" fill="#6a8a6e"/>
<circle cx="273.66" cy="525.50" r="5.1" fill="#a6bba7"/>
<circle cx="273.66" cy="536.53" r="5.1" fill="#bfcfbe"/>
<circle cx="273.66" cy="547.56" r="5.1" fill="#e3ece0"/>
<circle cx="273.66" cy="558.59" r="5.1" fill="#88a28b"/>
<circle cx="273.66" cy="569.62" r="5.1" fill="#1b4a25"/>
<circle cx="273.66" cy="580.65" r="5.1" fill="#bfcfbe"/>
<circle cx="273.66" cy="591.68" r="5.1" fill="#a6bba7"/>
<circle cx="273.66" cy="602.71" r="5.1" fill="#bfcfbe"/>
<circle cx="273.66" cy="613.74" r="5.1" fill="#6a8a6e"/>
<circle cx="289.38" cy="525.50" r="5.1" fill="#bfcfbe"/>
<circle cx="289.38" cy="536.53" r="5.1" fill="#d2ddd0"/>
<circle cx="289.38" cy="547.56" r="5.1" fill="#bfcfbe"/>
<circle cx="289.38" cy="558.59" r="5.1" fill="#bfcfbe"/>
<circle cx="289.38" cy="569.62" r="5.1" fill="#1b4a25"/>
<circle cx="289.38" cy="580.65" r="5.1" fill="#d2ddd0"/>
<circle cx="289.38" cy="591.68" r="5.1" fill="#bfcfbe"/>
<circle cx="289.38" cy="602.71" r="5.1" fill="#d2ddd0"/>
<circle cx="289.38" cy="613.74" r="5.1" fill="#a6bba7"/>
<circle cx="305.10" cy="525.50" r="5.1" fill="#d2ddd0"/>
<circle cx="305.10" cy="536.53" r="5.1" fill="#6a8a6e"/>
<circle cx="305.10" cy="547.56" r="5.1" fill="#a6bba7"/>
<circle cx="305.10" cy="558.59" r="5.1" fill="#a6bba7"/>
<circle cx="305.10" cy="569.62" r="5.1" fill="#88a28b"/>
<circle cx="305.10" cy="580.65" r="5.1" fill="#345c3b"/>
<circle cx="305.10" cy="591.68" r="5.1" fill="#e3ece0"/>
<circle cx="305.10" cy="602.71" r="5.1" fill="#88a28b"/>
<circle cx="305.10" cy="613.74" r="5.1" fill="#88a28b"/>
<circle cx="320.82" cy="525.50" r="5.1" fill="#4f7354"/>
<circle cx="320.82" cy="536.53" r="5.1" fill="#88a28b"/>
<circle cx="320.82" cy="547.56" r="5.1" fill="#d2ddd0"/>
<circle cx="320.82" cy="558.59" r="5.1" fill="#e3ece0"/>
<circle cx="320.82" cy="569.62" r="5.1" fill="#e3ece0"/>
<circle cx="320.82" cy="580.65" r="5.1" fill="#4f7354"/>
<circle cx="320.82" cy="591.68" r="5.1" fill="#e3ece0"/>
<circle cx="320.82" cy="602.71" r="5.1" fill="#e3ece0"/>
<circle cx="320.82" cy="613.74" r="5.1" fill="#bfcfbe"/>
<circle cx="336.54" cy="525.50" r="5.1" fill="#d2ddd0"/>
<circle cx="336.54" cy="536.53" r="5.1" fill="#d2ddd0"/>
<circle cx="336.54" cy="547.56" r="5.1" fill="#d2ddd0"/>
<circle cx="336.54" cy="558.59" r="5.1" fill="#e3ece0"/>
<circle cx="336.54" cy="569.62" r="5.1" fill="#d2ddd0"/>
<circle cx="336.54" cy="580.65" r="5.1" fill="#4f7354"/>
<circle cx="336.54" cy="591.68" r="5.1" fill="#e3ece0"/>
<circle cx="336.54" cy="602.71" r="5.1" fill="#bfcfbe"/>
<circle cx="336.54" cy="613.74" r="5.1" fill="#88a28b"/>
<circle cx="352.26" cy="525.50" r="5.1" fill="#88a28b"/>
<circle cx="352.26" cy="536.53" r="5.1" fill="#a6bba7"/>
<circle cx="352.26" cy="547.56" r="5.1" fill="#a6bba7"/>
<circle cx="352.26" cy="558.59" r="5.1" fill="#e3ece0"/>
<circle cx="352.26" cy="569.62" r="5.1" fill="#e3ece0"/>
<circle cx="352.26" cy="580.65" r="5.1" fill="#d2ddd0"/>
<circle cx="352.26" cy="591.68" r="5.1" fill="#1b4a25"/>
<circle cx="352.26" cy="602.71" r="5.1" fill="#a6bba7"/>
<circle cx="352.26" cy="613.74" r="5.1" fill="#a6bba7"/>
<circle cx="367.98" cy="525.50" r="5.1" fill="#e3ece0"/>
<circle cx="367.98" cy="536.53" r="5.1" fill="#bfcfbe"/>
<circle cx="367.98" cy="547.56" r="5.1" fill="#e3ece0"/>
<circle cx="367.98" cy="558.59" r="5.1" fill="#e3ece0"/>
<circle cx="367.98" cy="569.62" r="5.1" fill="#88a28b"/>
<circle cx="367.98" cy="580.65" r="5.1" fill="#bfcfbe"/>
<circle cx="367.98" cy="591.68" r="5.1" fill="#1b4a25"/>
<circle cx="367.98" cy="602.71" r="5.1" fill="#bfcfbe"/>
<circle cx="367.98" cy="613.74" r="5.1" fill="#e3ece0"/>
<circle cx="383.70" cy="525.50" r="5.1" fill="#e3ece0"/>
<circle cx="383.70" cy="536.53" r="5.1" fill="#e3ece0"/>
<circle cx="383.70" cy="547.56" r="5.1" fill="#e3ece0"/>
<circle cx="383.70" cy="558.59" r="5.1" fill="#e3ece0"/>
<circle cx="383.70" cy="569.62" r="5.1" fill="#d2ddd0"/>
<circle cx="383.70" cy="580.65" r="5.1" fill="#eef3ec"/>
<circle cx="383.70" cy="591.68" r="5.1" fill="#345c3b"/>
<circle cx="383.70" cy="602.71" r="5.1" fill="#a6bba7"/>
<circle cx="383.70" cy="613.74" r="5.1" fill="#88a28b"/>
<circle cx="399.42" cy="525.50" r="5.1" fill="#e3ece0"/>
<circle cx="399.42" cy="536.53" r="5.1" fill="#bfcfbe"/>
<circle cx="399.42" cy="547.56" r="5.1" fill="#88a28b"/>
<circle cx="399.42" cy="558.59" r="5.1" fill="#d2ddd0"/>
<circle cx="399.42" cy="569.62" r="5.1" fill="#88a28b"/>
<circle cx="399.42" cy="580.65" r="5.1" fill="#bfcfbe"/>
<circle cx="399.42" cy="591.68" r="5.1" fill="#a6bba7"/>
<circle cx="399.42" cy="602.71" r="5.1" fill="#345c3b"/>
<circle cx="399.42" cy="613.74" r="5.1" fill="#345c3b"/>
<circle cx="415.14" cy="525.50" r="5.1" fill="#d2ddd0"/>
<circle cx="415.14" cy="536.53" r="5.1" fill="#d2ddd0"/>
<circle cx="415.14" cy="547.56" r="5.1" fill="#d2ddd0"/>
<circle cx="415.14" cy="558.59" r="5.1" fill="#bfcfbe"/>
<circle cx="415.14" cy="569.62" r="5.1" fill="#a6bba7"/>
<circle cx="415.14" cy="580.65" r="5.1" fill="#e3ece0"/>
<circle cx="415.14" cy="591.68" r="5.1" fill="#a6bba7"/>
<circle cx="415.14" cy="602.71" r="5.1" fill="#345c3b"/>
<circle cx="415.14" cy="613.74" r="5.1" fill="#d2ddd0"/>
<circle cx="430.86" cy="525.50" r="5.1" fill="#88a28b"/>
<circle cx="430.86" cy="536.53" r="5.1" fill="#88a28b"/>
<circle cx="430.86" cy="547.56" r="5.1" fill="#a6bba7"/>
<circle cx="430.86" cy="558.59" r="5.1" fill="#a6bba7"/>
<circle cx="430.86" cy="569.62" r="5.1" fill="#4f7354"/>
<circle cx="430.86" cy="580.65" r="5.1" fill="#d2ddd0"/>
<circle cx="430.86" cy="591.68" r="5.1" fill="#4f7354"/>
<circle cx="430.86" cy="602.71" r="5.1" fill="#4f7354"/>
<circle cx="430.86" cy="613.74" r="5.1" fill="#a6bba7"/>
<circle cx="446.58" cy="525.50" r="5.1" fill="#a6bba7"/>
<circle cx="446.58" cy="536.53" r="5.1" fill="#d2ddd0"/>
<circle cx="446.58" cy="547.56" r="5.1" fill="#e3ece0"/>
<circle cx="446.58" cy="558.59" r="5.1" fill="#bfcfbe"/>
<circle cx="446.58" cy="569.62" r="5.1" fill="#d2ddd0"/>
<circle cx="446.58" cy="580.65" r="5.1" fill="#d2ddd0"/>
<circle cx="446.58" cy="591.68" r="5.1" fill="#bfcfbe"/>
<circle cx="446.58" cy="602.71" r="5.1" fill="#bfcfbe"/>
<circle cx="446.58" cy="613.74" r="5.1" fill="#1b4a25"/>
<circle cx="462.30" cy="525.50" r="5.1" fill="#bfcfbe"/>
<circle cx="462.30" cy="536.53" r="5.1" fill="#d2ddd0"/>
<circle cx="462.30" cy="547.56" r="5.1" fill="#e3ece0"/>
<circle cx="462.30" cy="558.59" r="5.1" fill="#d2ddd0"/>
<circle cx="462.30" cy="569.62" r="5.1" fill="#a6bba7"/>
<circle cx="462.30" cy="580.65" r="5.1" fill="#bfcfbe"/>
<circle cx="462.30" cy="591.68" r="5.1" fill="#d2ddd0"/>
<circle cx="462.30" cy="602.71" r="5.1" fill="#d2ddd0"/>
<circle cx="462.30" cy="613.74" r="5.1" fill="#345c3b"/>
<circle cx="478.02" cy="525.50" r="5.1" fill="#d2ddd0"/>
<circle cx="478.02" cy="536.53" r="5.1" fill="#4f7354"/>
<circle cx="478.02" cy="547.56" r="5.1" fill="#6a8a6e"/>
<circle cx="478.02" cy="558.59" r="5.1" fill="#a6bba7"/>
<circle cx="478.02" cy="569.62" r="5.1" fill="#1b4a25"/>
<circle cx="478.02" cy="580.65" r="5.1" fill="#a6bba7"/>
<circle cx="478.02" cy="591.68" r="5.1" fill="#88a28b"/>
<circle cx="478.02" cy="602.71" r="5.1" fill="#6a8a6e"/>
<circle cx="478.02" cy="613.74" r="5.1" fill="#345c3b"/>
<text x="56.5" y="528.25" font-size="7.6" fill="#5cb85c" stroke="#5cb85c" stroke-width="0.18" text-anchor="end" font-weight="normal" textLength="13.5" lengthAdjust="spacingAndGlyphs" >APL</text>
<text x="56.5" y="539.28" font-size="7.6" fill="#cc2a48" stroke="#cc2a48" stroke-width="0.18" text-anchor="end" font-weight="normal" textLength="17.7" lengthAdjust="spacingAndGlyphs" >CLLE</text>
<text x="56.5" y="550.31" font-size="7.6" fill="#cc2a48" stroke="#cc2a48" stroke-width="0.18" text-anchor="end" font-weight="normal" textLength="21.3" lengthAdjust="spacingAndGlyphs" >MALY</text>
<text x="56.5" y="561.34" font-size="7.6" fill="#2f62a0" stroke="#2f62a0" stroke-width="0.18" text-anchor="end" font-weight="normal" textLength="22.4" lengthAdjust="spacingAndGlyphs" >BOCA</text>
<text x="56.5" y="572.37" font-size="7.6" fill="#2f62a0" stroke="#2f62a0" stroke-width="0.18" text-anchor="end" font-weight="normal" textLength="20.8" lengthAdjust="spacingAndGlyphs" >BRCA</text>
<text x="56.5" y="583.4" font-size="7.6" fill="#2f62a0" stroke="#2f62a0" stroke-width="0.18" text-anchor="end" font-weight="normal" textLength="12.7" lengthAdjust="spacingAndGlyphs" >LIRI</text>
<text x="56.5" y="594.43" font-size="7.6" fill="#2f62a0" stroke="#2f62a0" stroke-width="0.18" text-anchor="end" font-weight="normal" textLength="21.3" lengthAdjust="spacingAndGlyphs" >PACA</text>
<text x="56.5" y="605.46" font-size="7.6" fill="#2f62a0" stroke="#2f62a0" stroke-width="0.18" text-anchor="end" font-weight="normal" textLength="20.5" lengthAdjust="spacingAndGlyphs" >PBCA</text>
<text x="56.5" y="616.49" font-size="7.6" fill="#2f62a0" stroke="#2f62a0" stroke-width="0.18" text-anchor="end" font-weight="normal" textLength="20.8" lengthAdjust="spacingAndGlyphs" >PRAD</text>
<rect x="24.80" y="520.90" width="3.50" height="33.80" fill="#cc1236" />
<rect x="24.80" y="557.30" width="3.50" height="58.10" fill="#124e86" />
<text transform="translate(18.4,537.5) rotate(-90)" font-size="8.2" fill="#cc3a56" stroke="#cc3a56" stroke-width="0.2" text-anchor="middle" textLength="48.8" lengthAdjust="spacingAndGlyphs">Hematopoietic</text>
<text transform="translate(18.4,586) rotate(-90)" font-size="8.2" fill="#2f62a0" stroke="#2f62a0" stroke-width="0.2" text-anchor="middle" textLength="17.1" lengthAdjust="spacingAndGlyphs">Solid</text>
<text transform="translate(71.30,626.7) rotate(-34) scale(0.75,1)" font-size="6.7" fill="#2a2a2a" stroke="#2a2a2a" stroke-width="0.2" text-anchor="end" textLength="82.76" lengthAdjust="spacingAndGlyphs">Myeloid cell differentiation</text>
<text transform="translate(87.02,626.7) rotate(-34) scale(0.75,1)" font-size="6.7" fill="#2a2a2a" stroke="#2a2a2a" stroke-width="0.2" text-anchor="end" textLength="77.19" lengthAdjust="spacingAndGlyphs">Neutrophil degranulation</text>
<text transform="translate(102.74,626.7) rotate(-34) scale(0.75,1)" font-size="6.7" fill="#2a2a2a" stroke="#2a2a2a" stroke-width="0.2" text-anchor="end" textLength="79.29" lengthAdjust="spacingAndGlyphs">Lymphocyte differentiation</text>
<text transform="translate(118.46,626.7) rotate(-34) scale(0.75,1)" font-size="6.7" fill="#2a2a2a" stroke="#2a2a2a" stroke-width="0.2" text-anchor="end" textLength="85.85" lengthAdjust="spacingAndGlyphs">Stress-activated MAPK cascade</text>
<text transform="translate(134.18,626.7) rotate(-34) scale(0.75,1)" font-size="6.7" fill="#2a2a2a" stroke="#2a2a2a" stroke-width="0.2" text-anchor="end" textLength="86.49" lengthAdjust="spacingAndGlyphs">Alpha-beta T cell differentiation</text>
<text transform="translate(149.90,626.7) rotate(-34) scale(0.75,1)" font-size="6.7" fill="#2a2a2a" stroke="#2a2a2a" stroke-width="0.2" text-anchor="end" textLength="73.80" lengthAdjust="spacingAndGlyphs">Regulation of hemopoiesis</text>
<text transform="translate(165.62,626.7) rotate(-34) scale(0.75,1)" font-size="6.7" fill="#2a2a2a" stroke="#2a2a2a" stroke-width="0.2" text-anchor="end" textLength="45.01" lengthAdjust="spacingAndGlyphs">T cell activation</text>
<text transform="translate(181.34,626.7) rotate(-34) scale(0.75,1)" font-size="6.7" fill="#2a2a2a" stroke="#2a2a2a" stroke-width="0.2" text-anchor="end" textLength="112.01" lengthAdjust="spacingAndGlyphs">Regulation of leukocyte differentiation</text>
<text transform="translate(197.06,626.7) rotate(-34) scale(0.75,1)" font-size="6.7" fill="#2a2a2a" stroke="#2a2a2a" stroke-width="0.2" text-anchor="end" textLength="116.46" lengthAdjust="spacingAndGlyphs">Regulation of lymphocyte differentiation</text>
<text transform="translate(212.78,626.7) rotate(-34) scale(0.75,1)" font-size="6.7" fill="#2a2a2a" stroke="#2a2a2a" stroke-width="0.2" text-anchor="end" textLength="49.26" lengthAdjust="spacingAndGlyphs">Circadian rhythm</text>
<text transform="translate(228.50,626.7) rotate(-34) scale(0.75,1)" font-size="6.7" fill="#2a2a2a" stroke="#2a2a2a" stroke-width="0.2" text-anchor="end" textLength="83.55" lengthAdjust="spacingAndGlyphs">Neuron projection guidance</text>
<text transform="translate(244.22,626.7) rotate(-34) scale(0.75,1)" font-size="6.7" fill="#2a2a2a" stroke="#2a2a2a" stroke-width="0.2" text-anchor="end" textLength="70.03" lengthAdjust="spacingAndGlyphs">Stem cell differentiation</text>
<text transform="translate(259.94,626.7) rotate(-34) scale(0.75,1)" font-size="6.7" fill="#2a2a2a" stroke="#2a2a2a" stroke-width="0.2" text-anchor="end" textLength="173.34" lengthAdjust="spacingAndGlyphs">Regulation of cell morphogenesis involved in differentiation</text>
<text transform="translate(275.66,626.7) rotate(-34) scale(0.75,1)" font-size="6.7" fill="#2a2a2a" stroke="#2a2a2a" stroke-width="0.2" text-anchor="end" textLength="133.98" lengthAdjust="spacingAndGlyphs">Negative regulation of protein phosphorylation</text>
<text transform="translate(291.38,626.7) rotate(-34) scale(0.75,1)" font-size="6.7" fill="#2a2a2a" stroke="#2a2a2a" stroke-width="0.2" text-anchor="end" textLength="48.00" lengthAdjust="spacingAndGlyphs">Tissue migration</text>
<text transform="translate(307.10,626.7) rotate(-34) scale(0.75,1)" font-size="6.7" fill="#2a2a2a" stroke="#2a2a2a" stroke-width="0.2" text-anchor="end" textLength="127.23" lengthAdjust="spacingAndGlyphs">Positive regulation of neuron differentiation</text>
<text transform="translate(322.82,626.7) rotate(-34) scale(0.75,1)" font-size="6.7" fill="#2a2a2a" stroke="#2a2a2a" stroke-width="0.2" text-anchor="end" textLength="144.94" lengthAdjust="spacingAndGlyphs">Regulation of cysteine-type endopeptidase activity</text>
<text transform="translate(338.54,626.7) rotate(-34) scale(0.75,1)" font-size="6.7" fill="#2a2a2a" stroke="#2a2a2a" stroke-width="0.2" text-anchor="end" textLength="61.23" lengthAdjust="spacingAndGlyphs">Response to metal ion</text>
<text transform="translate(354.26,626.7) rotate(-34) scale(0.75,1)" font-size="6.7" fill="#2a2a2a" stroke="#2a2a2a" stroke-width="0.2" text-anchor="end" textLength="72.71" lengthAdjust="spacingAndGlyphs">Myeloid cell homeostasis</text>
<text transform="translate(369.98,626.7) rotate(-34) scale(0.75,1)" font-size="6.7" fill="#2a2a2a" stroke="#2a2a2a" stroke-width="0.2" text-anchor="end" textLength="83.97" lengthAdjust="spacingAndGlyphs">Histone H3-K4 trimethylation</text>
<text transform="translate(385.70,626.7) rotate(-34) scale(0.75,1)" font-size="6.7" fill="#2a2a2a" stroke="#2a2a2a" stroke-width="0.2" text-anchor="end" textLength="46.62" lengthAdjust="spacingAndGlyphs">RNA localization</text>
<text transform="translate(401.42,626.7) rotate(-34) scale(0.75,1)" font-size="6.7" fill="#2a2a2a" stroke="#2a2a2a" stroke-width="0.2" text-anchor="end" textLength="119.12" lengthAdjust="spacingAndGlyphs">Regulation of chromosome organization</text>
<text transform="translate(417.14,626.7) rotate(-34) scale(0.75,1)" font-size="6.7" fill="#2a2a2a" stroke="#2a2a2a" stroke-width="0.2" text-anchor="end" textLength="84.83" lengthAdjust="spacingAndGlyphs">Peptidyl-lysine modification</text>
<text transform="translate(432.86,626.7) rotate(-34) scale(0.75,1)" font-size="6.7" fill="#2a2a2a" stroke="#2a2a2a" stroke-width="0.2" text-anchor="end" textLength="62.14" lengthAdjust="spacingAndGlyphs">Histone modification</text>
<text transform="translate(448.58,626.7) rotate(-34) scale(0.75,1)" font-size="6.7" fill="#2a2a2a" stroke="#2a2a2a" stroke-width="0.2" text-anchor="end" textLength="64.22" lengthAdjust="spacingAndGlyphs">Golgi vesicle transport</text>
<text transform="translate(464.30,626.7) rotate(-34) scale(0.75,1)" font-size="6.7" fill="#2a2a2a" stroke="#2a2a2a" stroke-width="0.2" text-anchor="end" textLength="108.07" lengthAdjust="spacingAndGlyphs">Endomembrane system organization</text>
<text transform="translate(480.02,626.7) rotate(-34) scale(0.75,1)" font-size="6.7" fill="#2a2a2a" stroke="#2a2a2a" stroke-width="0.2" text-anchor="end" textLength="97.73" lengthAdjust="spacingAndGlyphs">Regulation of cell morphogenesis</text>
<defs><linearGradient id="cb" x1="0" x2="1" y1="0" y2="0"><stop offset="0" stop-color="#1d4a26"/><stop offset="1" stop-color="#eff4ed"/></linearGradient></defs>
<rect x="453.90" y="686.50" width="60.10" height="7.80" fill="url(#cb)" />
<rect x="465.42" y="686.50" width="0.80" height="1.20" fill="#fff" />
<rect x="465.42" y="693.10" width="0.80" height="1.20" fill="#fff" />
<rect x="477.44" y="686.50" width="0.80" height="1.20" fill="#fff" />
<rect x="477.44" y="693.10" width="0.80" height="1.20" fill="#fff" />
<rect x="489.46" y="686.50" width="0.80" height="1.20" fill="#fff" />
<rect x="489.46" y="693.10" width="0.80" height="1.20" fill="#fff" />
<rect x="501.48" y="686.50" width="0.80" height="1.20" fill="#fff" />
<rect x="501.48" y="693.10" width="0.80" height="1.20" fill="#fff" />
<text x="459.4" y="703.0" font-size="7.4" fill="#231f20" stroke="#231f20" stroke-width="0.18" text-anchor="middle" font-weight="normal" >5</text>
<text x="470.34999999999997" y="703.0" font-size="7.4" fill="#231f20" stroke="#231f20" stroke-width="0.18" text-anchor="middle" font-weight="normal" >4</text>
<text x="481.29999999999995" y="703.0" font-size="7.4" fill="#231f20" stroke="#231f20" stroke-width="0.18" text-anchor="middle" font-weight="normal" >3</text>
<text x="492.25" y="703.0" font-size="7.4" fill="#231f20" stroke="#231f20" stroke-width="0.18" text-anchor="middle" font-weight="normal" >2</text>
<text x="503.2" y="703.0" font-size="7.4" fill="#231f20" stroke="#231f20" stroke-width="0.18" text-anchor="middle" font-weight="normal" >1</text>
<text x="399.6" y="693.1" font-size="7.25" fill="#231f20" stroke="#231f20" stroke-width="0.2">&#8722;log<tspan font-size="5.4" dy="1.7">10</tspan><tspan dy="-1.7"> (</tspan><tspan font-style="italic">P</tspan> value)</text>
<rect x="0.00" y="0.00" width="520.00" height="1.00" fill="#000" />
<rect x="0.00" y="0.00" width="1.00" height="710.00" fill="#000" />
<rect x="518.60" y="0.00" width="1.40" height="710.00" fill="#000" />
<rect x="0.00" y="708.50" width="520.00" height="1.50" fill="#000" />
</svg></body></html>
